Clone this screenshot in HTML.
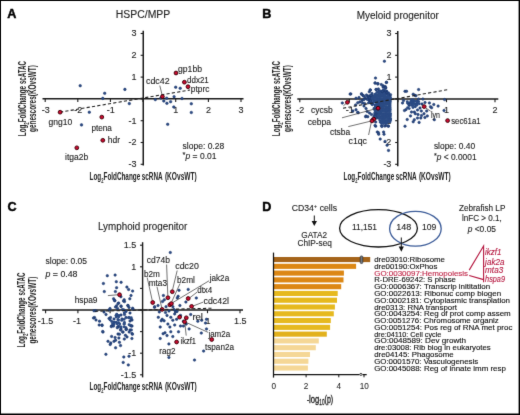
<!DOCTYPE html>
<html><head><meta charset="utf-8"><style>
html,body{margin:0;padding:0;background:#fff;}
svg{display:block;will-change:transform;}
text{font-family:"Liberation Sans", sans-serif;}
</style></head><body>
<svg width="520" height="415" viewBox="0 0 520 415">
<rect x="0" y="0" width="520" height="415" fill="#fff"/>
<defs><filter id="soft" x="0" y="0" width="520" height="415" filterUnits="userSpaceOnUse" color-interpolation-filters="sRGB"><feConvolveMatrix order="3" kernelMatrix="0.01 0.07 0.01 0.07 0.68 0.07 0.01 0.07 0.01" divisor="1" edgeMode="duplicate"/></filter></defs>
<g fill="#222" filter="url(#soft)">
<text x="7.3" y="18.0" font-size="12.6" fill="#000" stroke="#000" stroke-width="0.45" font-weight="bold">A</text>
<text x="115.8" y="18.3" font-size="10" stroke="#222" stroke-width="0.12" textLength="54.4" lengthAdjust="spacingAndGlyphs">HSPC/MPP</text>
<line x1="143.25" y1="30.8" x2="143.25" y2="165.5" stroke="#1a1a1a" stroke-width="1.5"/>
<line x1="140.65" y1="33.5" x2="143.25" y2="33.5" stroke="#1a1a1a" stroke-width="1.1"/>
<text x="136.6" y="36.3" font-size="9" text-anchor="end" stroke="#222" stroke-width="0.12">3</text>
<line x1="140.65" y1="55.3" x2="143.25" y2="55.3" stroke="#1a1a1a" stroke-width="1.1"/>
<text x="136.6" y="58.099999999999994" font-size="9" text-anchor="end" stroke="#222" stroke-width="0.12">2</text>
<line x1="140.65" y1="77.1" x2="143.25" y2="77.1" stroke="#1a1a1a" stroke-width="1.1"/>
<text x="136.6" y="79.89999999999999" font-size="9" text-anchor="end" stroke="#222" stroke-width="0.12">1</text>
<line x1="140.65" y1="98.9" x2="143.25" y2="98.9" stroke="#1a1a1a" stroke-width="1.1"/>
<line x1="140.65" y1="120.7" x2="143.25" y2="120.7" stroke="#1a1a1a" stroke-width="1.1"/>
<text x="136.6" y="123.5" font-size="9" text-anchor="end" stroke="#222" stroke-width="0.12">-1</text>
<line x1="140.65" y1="142.5" x2="143.25" y2="142.5" stroke="#1a1a1a" stroke-width="1.1"/>
<text x="136.6" y="145.3" font-size="9" text-anchor="end" stroke="#222" stroke-width="0.12">-2</text>
<line x1="140.65" y1="164.3" x2="143.25" y2="164.3" stroke="#1a1a1a" stroke-width="1.1"/>
<text x="136.6" y="167.10000000000002" font-size="9" text-anchor="end" stroke="#222" stroke-width="0.12">-3</text>
<line x1="42.5" y1="98.75" x2="243.5" y2="98.75" stroke="#1a1a1a" stroke-width="1.5"/>
<line x1="45.2" y1="98.75" x2="45.2" y2="101.95" stroke="#1a1a1a" stroke-width="1.1"/>
<text x="45.800000000000004" y="113.4" font-size="9" text-anchor="middle" stroke="#222" stroke-width="0.12">-3</text>
<line x1="77.8" y1="98.75" x2="77.8" y2="101.95" stroke="#1a1a1a" stroke-width="1.1"/>
<text x="78.2" y="113.4" font-size="9" text-anchor="middle" stroke="#222" stroke-width="0.12">-2</text>
<line x1="110.4" y1="98.75" x2="110.4" y2="101.95" stroke="#1a1a1a" stroke-width="1.1"/>
<text x="110.80000000000001" y="113.4" font-size="9" text-anchor="middle" stroke="#222" stroke-width="0.12">-1</text>
<line x1="143" y1="98.75" x2="143" y2="101.95" stroke="#1a1a1a" stroke-width="1.1"/>
<line x1="175.7" y1="98.75" x2="175.7" y2="101.95" stroke="#1a1a1a" stroke-width="1.1"/>
<text x="175.7" y="113.4" font-size="9" text-anchor="middle" stroke="#222" stroke-width="0.12">1</text>
<line x1="208.4" y1="98.75" x2="208.4" y2="101.95" stroke="#1a1a1a" stroke-width="1.1"/>
<text x="208.4" y="113.4" font-size="9" text-anchor="middle" stroke="#222" stroke-width="0.12">2</text>
<line x1="241.0" y1="98.75" x2="241.0" y2="101.95" stroke="#1a1a1a" stroke-width="1.1"/>
<text x="241.0" y="113.4" font-size="9" text-anchor="middle" stroke="#222" stroke-width="0.12">3</text>
<circle cx="80.2" cy="85.7" r="1.30" fill="#2b4b84" stroke="#163066" stroke-width="0.5"/>
<circle cx="104.7" cy="93.3" r="1.30" fill="#2b4b84" stroke="#163066" stroke-width="0.5"/>
<circle cx="124.9" cy="89.4" r="1.30" fill="#2b4b84" stroke="#163066" stroke-width="0.5"/>
<circle cx="102.8" cy="98.4" r="1.30" fill="#2b4b84" stroke="#163066" stroke-width="0.5"/>
<circle cx="89.3" cy="112.2" r="1.30" fill="#2b4b84" stroke="#163066" stroke-width="0.5"/>
<circle cx="81.5" cy="124.9" r="1.30" fill="#2b4b84" stroke="#163066" stroke-width="0.5"/>
<circle cx="129.3" cy="103.6" r="1.30" fill="#2b4b84" stroke="#163066" stroke-width="0.5"/>
<circle cx="155.3" cy="99.6" r="1.30" fill="#2b4b84" stroke="#163066" stroke-width="0.5"/>
<circle cx="160.9" cy="98" r="1.30" fill="#2b4b84" stroke="#163066" stroke-width="0.5"/>
<circle cx="163.8" cy="101" r="1.30" fill="#2b4b84" stroke="#163066" stroke-width="0.5"/>
<circle cx="166.7" cy="98.2" r="1.30" fill="#2b4b84" stroke="#163066" stroke-width="0.5"/>
<circle cx="166.9" cy="103.3" r="1.30" fill="#2b4b84" stroke="#163066" stroke-width="0.5"/>
<circle cx="170.6" cy="101.7" r="1.30" fill="#2b4b84" stroke="#163066" stroke-width="0.5"/>
<circle cx="174.1" cy="96.7" r="1.30" fill="#2b4b84" stroke="#163066" stroke-width="0.5"/>
<circle cx="173.8" cy="107" r="1.30" fill="#2b4b84" stroke="#163066" stroke-width="0.5"/>
<circle cx="175.7" cy="87.2" r="1.30" fill="#2b4b84" stroke="#163066" stroke-width="0.5"/>
<circle cx="180.2" cy="88.3" r="1.30" fill="#2b4b84" stroke="#163066" stroke-width="0.5"/>
<circle cx="182" cy="98.5" r="1.30" fill="#2b4b84" stroke="#163066" stroke-width="0.5"/>
<circle cx="191.3" cy="103.8" r="1.30" fill="#2b4b84" stroke="#163066" stroke-width="0.5"/>
<circle cx="191.3" cy="112.5" r="1.30" fill="#2b4b84" stroke="#163066" stroke-width="0.5"/>
<circle cx="167.7" cy="124.3" r="1.30" fill="#2b4b84" stroke="#163066" stroke-width="0.5"/>
<line x1="60" y1="112.2" x2="190" y2="90.0" stroke="#222" stroke-width="1.1" stroke-dasharray="3.2 2.2"/>
<line x1="159.8" y1="85.6" x2="162.2" y2="95.2" stroke="#333" stroke-width="0.7"/>
<circle cx="60.1" cy="112.2" r="1.9" fill="#c90a30" stroke="#3a0006" stroke-width="0.9"/>
<circle cx="101.8" cy="117.1" r="1.9" fill="#c90a30" stroke="#3a0006" stroke-width="0.9"/>
<circle cx="102.8" cy="140.3" r="1.9" fill="#c90a30" stroke="#3a0006" stroke-width="0.9"/>
<circle cx="76.8" cy="147.8" r="1.9" fill="#c90a30" stroke="#3a0006" stroke-width="0.9"/>
<circle cx="176" cy="73" r="1.9" fill="#c90a30" stroke="#3a0006" stroke-width="0.9"/>
<circle cx="184.4" cy="82.2" r="1.9" fill="#c90a30" stroke="#3a0006" stroke-width="0.9"/>
<circle cx="188" cy="86.7" r="1.9" fill="#c90a30" stroke="#3a0006" stroke-width="0.9"/>
<circle cx="162.4" cy="96.6" r="1.9" fill="#c90a30" stroke="#3a0006" stroke-width="0.9"/>
<text x="48.5" y="124.6" font-size="8.6" stroke="#222" stroke-width="0.12" textLength="23.7" lengthAdjust="spacingAndGlyphs">gng10</text>
<text x="91.4" y="130.6" font-size="8.6" stroke="#222" stroke-width="0.12" textLength="20.5" lengthAdjust="spacingAndGlyphs">ptena</text>
<text x="107.7" y="143.2" font-size="8.6" stroke="#222" stroke-width="0.12" textLength="12.3" lengthAdjust="spacingAndGlyphs">hdr</text>
<text x="65.0" y="160.2" font-size="8.6" stroke="#222" stroke-width="0.12" textLength="23.2" lengthAdjust="spacingAndGlyphs">itga2b</text>
<text x="178" y="71.7" font-size="8.6" stroke="#222" stroke-width="0.12" textLength="24" lengthAdjust="spacingAndGlyphs">gp1bb</text>
<text x="187" y="82.5" font-size="8.6" stroke="#222" stroke-width="0.12" textLength="21.8" lengthAdjust="spacingAndGlyphs">ddx21</text>
<text x="190.8" y="92.0" font-size="8.6" stroke="#222" stroke-width="0.12" textLength="18.6" lengthAdjust="spacingAndGlyphs">ptprc</text>
<text x="146" y="84.2" font-size="8.6" stroke="#222" stroke-width="0.12" textLength="23.6" lengthAdjust="spacingAndGlyphs">cdc42</text>
<text x="182.6" y="148.6" font-size="8.6" stroke="#222" stroke-width="0.12" textLength="41.6" lengthAdjust="spacingAndGlyphs">slope: 0.28</text>
<text x="182.6" y="158.9" font-size="8.6" stroke="#222" stroke-width="0.12" textLength="33.9" lengthAdjust="spacingAndGlyphs"><tspan font-size="7.5" dy="-1.6">*</tspan><tspan dy="1.6" font-style="italic">p</tspan> = 0.01</text>
<text transform="translate(25.6,136.2) rotate(-90)" x="0" y="0" font-size="10.4" font-weight="bold" textLength="50.2" lengthAdjust="spacingAndGlyphs">Log<tspan font-size="7" dy="2.9">2</tspan><tspan dy="-2.9">FoldChange</tspan></text>
<text transform="translate(25.6,84.1) rotate(-90)" x="0" y="0" font-size="10.4" font-weight="bold" textLength="23.0" lengthAdjust="spacingAndGlyphs">scATAC</text>
<text transform="translate(36.4,132.0) rotate(-90)" x="0" y="0" font-size="10.4" font-weight="bold" textLength="66.9" lengthAdjust="spacingAndGlyphs">genescores(KOvsWT)</text>
<text x="89.6" y="179.6" font-size="10.8" font-weight="bold" textLength="50.6" lengthAdjust="spacingAndGlyphs">Log<tspan font-size="7" dy="2.9">2</tspan><tspan dy="-2.9">FoldChange</tspan></text>
<text x="141.7" y="179.6" font-size="10.8" font-weight="bold" textLength="21.0" lengthAdjust="spacingAndGlyphs">scRNA</text>
<text x="164.9" y="179.6" font-size="10.8" font-weight="bold" textLength="31.9" lengthAdjust="spacingAndGlyphs">(KOvsWT)</text>
<text x="262.2" y="18.0" font-size="12.6" fill="#000" stroke="#000" stroke-width="0.45" font-weight="bold">B</text>
<text x="356.7" y="18.5" font-size="10" stroke="#222" stroke-width="0.12" textLength="82.1" lengthAdjust="spacingAndGlyphs">Myeloid progenitor</text>
<line x1="397.75" y1="31.0" x2="397.75" y2="166.3" stroke="#1a1a1a" stroke-width="1.5"/>
<line x1="395.15" y1="33.5" x2="397.75" y2="33.5" stroke="#1a1a1a" stroke-width="1.1"/>
<text x="391.4" y="36.3" font-size="9" text-anchor="end" stroke="#222" stroke-width="0.12">3</text>
<line x1="395.15" y1="55.3" x2="397.75" y2="55.3" stroke="#1a1a1a" stroke-width="1.1"/>
<text x="391.4" y="58.099999999999994" font-size="9" text-anchor="end" stroke="#222" stroke-width="0.12">2</text>
<line x1="395.15" y1="77.1" x2="397.75" y2="77.1" stroke="#1a1a1a" stroke-width="1.1"/>
<text x="391.4" y="79.89999999999999" font-size="9" text-anchor="end" stroke="#222" stroke-width="0.12">1</text>
<line x1="395.15" y1="98.9" x2="397.75" y2="98.9" stroke="#1a1a1a" stroke-width="1.1"/>
<line x1="395.15" y1="120.7" x2="397.75" y2="120.7" stroke="#1a1a1a" stroke-width="1.1"/>
<text x="391.4" y="123.5" font-size="9" text-anchor="end" stroke="#222" stroke-width="0.12">-1</text>
<line x1="395.15" y1="142.5" x2="397.75" y2="142.5" stroke="#1a1a1a" stroke-width="1.1"/>
<text x="391.4" y="145.3" font-size="9" text-anchor="end" stroke="#222" stroke-width="0.12">-2</text>
<line x1="395.15" y1="164.3" x2="397.75" y2="164.3" stroke="#1a1a1a" stroke-width="1.1"/>
<text x="391.4" y="167.10000000000002" font-size="9" text-anchor="end" stroke="#222" stroke-width="0.12">-3</text>
<line x1="297.3" y1="99.0" x2="498.3" y2="99.0" stroke="#1a1a1a" stroke-width="1.6"/>
<line x1="299.8" y1="99.0" x2="299.8" y2="102.2" stroke="#1a1a1a" stroke-width="1.1"/>
<text x="300.3" y="113.4" font-size="9" text-anchor="middle" stroke="#222" stroke-width="0.12">-2</text>
<line x1="349.3" y1="99.0" x2="349.3" y2="102.2" stroke="#1a1a1a" stroke-width="1.1"/>
<text x="349.8" y="113.4" font-size="9" text-anchor="middle" stroke="#222" stroke-width="0.12">-1</text>
<line x1="397.9" y1="99.0" x2="397.9" y2="102.2" stroke="#1a1a1a" stroke-width="1.1"/>
<line x1="446.5" y1="99.0" x2="446.5" y2="102.2" stroke="#1a1a1a" stroke-width="1.1"/>
<text x="446.5" y="113.4" font-size="9" text-anchor="middle" stroke="#222" stroke-width="0.12">1</text>
<line x1="495.0" y1="99.0" x2="495.0" y2="102.2" stroke="#1a1a1a" stroke-width="1.1"/>
<text x="495.0" y="113.4" font-size="9" text-anchor="middle" stroke="#222" stroke-width="0.12">2</text>
<circle cx="383.5" cy="89.8" r="1.45" fill="#2b4b84"/>
<circle cx="378.6" cy="91.3" r="1.45" fill="#2b4b84"/>
<circle cx="380.2" cy="90.9" r="1.45" fill="#2b4b84"/>
<circle cx="381.7" cy="91.3" r="1.45" fill="#2b4b84"/>
<circle cx="383.5" cy="91.3" r="1.45" fill="#2b4b84"/>
<circle cx="385.1" cy="91.4" r="1.45" fill="#2b4b84"/>
<circle cx="386.8" cy="91.3" r="1.45" fill="#2b4b84"/>
<circle cx="376.8" cy="92.5" r="1.45" fill="#2b4b84"/>
<circle cx="378.7" cy="93.0" r="1.45" fill="#2b4b84"/>
<circle cx="380.1" cy="93.1" r="1.45" fill="#2b4b84"/>
<circle cx="382.0" cy="92.9" r="1.45" fill="#2b4b84"/>
<circle cx="384.0" cy="92.9" r="1.45" fill="#2b4b84"/>
<circle cx="384.9" cy="93.1" r="1.45" fill="#2b4b84"/>
<circle cx="387.4" cy="93.2" r="1.45" fill="#2b4b84"/>
<circle cx="388.6" cy="93.0" r="1.45" fill="#2b4b84"/>
<circle cx="375.3" cy="94.3" r="1.45" fill="#2b4b84"/>
<circle cx="376.7" cy="94.9" r="1.45" fill="#2b4b84"/>
<circle cx="378.5" cy="94.6" r="1.45" fill="#2b4b84"/>
<circle cx="380.5" cy="94.9" r="1.45" fill="#2b4b84"/>
<circle cx="381.8" cy="94.5" r="1.45" fill="#2b4b84"/>
<circle cx="384.0" cy="94.3" r="1.45" fill="#2b4b84"/>
<circle cx="385.1" cy="94.4" r="1.45" fill="#2b4b84"/>
<circle cx="387.1" cy="94.4" r="1.45" fill="#2b4b84"/>
<circle cx="388.6" cy="94.5" r="1.45" fill="#2b4b84"/>
<circle cx="375.2" cy="95.9" r="1.45" fill="#2b4b84"/>
<circle cx="377.0" cy="96.6" r="1.45" fill="#2b4b84"/>
<circle cx="378.4" cy="96.2" r="1.45" fill="#2b4b84"/>
<circle cx="380.3" cy="95.9" r="1.45" fill="#2b4b84"/>
<circle cx="381.7" cy="96.0" r="1.45" fill="#2b4b84"/>
<circle cx="383.2" cy="95.9" r="1.45" fill="#2b4b84"/>
<circle cx="385.0" cy="96.2" r="1.45" fill="#2b4b84"/>
<circle cx="387.3" cy="96.4" r="1.45" fill="#2b4b84"/>
<circle cx="388.5" cy="96.2" r="1.45" fill="#2b4b84"/>
<circle cx="390.1" cy="96.6" r="1.45" fill="#2b4b84"/>
<circle cx="374.8" cy="97.7" r="1.45" fill="#2b4b84"/>
<circle cx="376.6" cy="98.3" r="1.45" fill="#2b4b84"/>
<circle cx="378.1" cy="98.4" r="1.45" fill="#2b4b84"/>
<circle cx="379.9" cy="98.0" r="1.45" fill="#2b4b84"/>
<circle cx="381.9" cy="98.4" r="1.45" fill="#2b4b84"/>
<circle cx="383.8" cy="97.8" r="1.45" fill="#2b4b84"/>
<circle cx="385.0" cy="98.2" r="1.45" fill="#2b4b84"/>
<circle cx="387.2" cy="97.9" r="1.45" fill="#2b4b84"/>
<circle cx="388.9" cy="98.4" r="1.45" fill="#2b4b84"/>
<circle cx="390.6" cy="98.3" r="1.45" fill="#2b4b84"/>
<circle cx="375.0" cy="99.3" r="1.45" fill="#2b4b84"/>
<circle cx="376.6" cy="99.5" r="1.45" fill="#2b4b84"/>
<circle cx="378.9" cy="99.7" r="1.45" fill="#2b4b84"/>
<circle cx="380.6" cy="100.1" r="1.45" fill="#2b4b84"/>
<circle cx="381.7" cy="99.5" r="1.45" fill="#2b4b84"/>
<circle cx="383.4" cy="99.8" r="1.45" fill="#2b4b84"/>
<circle cx="385.6" cy="99.7" r="1.45" fill="#2b4b84"/>
<circle cx="387.2" cy="99.4" r="1.45" fill="#2b4b84"/>
<circle cx="389.0" cy="99.9" r="1.45" fill="#2b4b84"/>
<circle cx="390.4" cy="99.4" r="1.45" fill="#2b4b84"/>
<circle cx="375.5" cy="101.3" r="1.45" fill="#2b4b84"/>
<circle cx="377.2" cy="101.6" r="1.45" fill="#2b4b84"/>
<circle cx="378.2" cy="101.1" r="1.45" fill="#2b4b84"/>
<circle cx="380.4" cy="101.1" r="1.45" fill="#2b4b84"/>
<circle cx="382.3" cy="101.5" r="1.45" fill="#2b4b84"/>
<circle cx="383.6" cy="101.1" r="1.45" fill="#2b4b84"/>
<circle cx="385.7" cy="101.5" r="1.45" fill="#2b4b84"/>
<circle cx="387.3" cy="101.3" r="1.45" fill="#2b4b84"/>
<circle cx="389.0" cy="101.2" r="1.45" fill="#2b4b84"/>
<circle cx="390.2" cy="101.2" r="1.45" fill="#2b4b84"/>
<circle cx="376.7" cy="103.1" r="1.45" fill="#2b4b84"/>
<circle cx="378.8" cy="103.0" r="1.45" fill="#2b4b84"/>
<circle cx="380.2" cy="103.1" r="1.45" fill="#2b4b84"/>
<circle cx="381.5" cy="103.1" r="1.45" fill="#2b4b84"/>
<circle cx="383.2" cy="103.3" r="1.45" fill="#2b4b84"/>
<circle cx="385.3" cy="103.3" r="1.45" fill="#2b4b84"/>
<circle cx="386.9" cy="103.1" r="1.45" fill="#2b4b84"/>
<circle cx="388.9" cy="102.8" r="1.45" fill="#2b4b84"/>
<circle cx="390.2" cy="102.9" r="1.45" fill="#2b4b84"/>
<circle cx="375.3" cy="105.1" r="1.45" fill="#2b4b84"/>
<circle cx="376.9" cy="104.8" r="1.45" fill="#2b4b84"/>
<circle cx="378.7" cy="104.8" r="1.45" fill="#2b4b84"/>
<circle cx="380.2" cy="105.2" r="1.45" fill="#2b4b84"/>
<circle cx="382.2" cy="105.2" r="1.45" fill="#2b4b84"/>
<circle cx="383.6" cy="105.2" r="1.45" fill="#2b4b84"/>
<circle cx="385.0" cy="104.5" r="1.45" fill="#2b4b84"/>
<circle cx="386.7" cy="104.6" r="1.45" fill="#2b4b84"/>
<circle cx="388.8" cy="105.0" r="1.45" fill="#2b4b84"/>
<circle cx="390.1" cy="105.0" r="1.45" fill="#2b4b84"/>
<circle cx="375.5" cy="106.3" r="1.45" fill="#2b4b84"/>
<circle cx="376.7" cy="106.5" r="1.45" fill="#2b4b84"/>
<circle cx="378.8" cy="106.2" r="1.45" fill="#2b4b84"/>
<circle cx="380.2" cy="106.4" r="1.45" fill="#2b4b84"/>
<circle cx="381.8" cy="106.7" r="1.45" fill="#2b4b84"/>
<circle cx="383.6" cy="106.5" r="1.45" fill="#2b4b84"/>
<circle cx="385.2" cy="106.6" r="1.45" fill="#2b4b84"/>
<circle cx="386.7" cy="106.9" r="1.45" fill="#2b4b84"/>
<circle cx="389.1" cy="106.2" r="1.45" fill="#2b4b84"/>
<circle cx="390.0" cy="106.7" r="1.45" fill="#2b4b84"/>
<circle cx="375.4" cy="108.5" r="1.45" fill="#2b4b84"/>
<circle cx="376.5" cy="108.5" r="1.45" fill="#2b4b84"/>
<circle cx="378.7" cy="107.9" r="1.45" fill="#2b4b84"/>
<circle cx="380.4" cy="108.1" r="1.45" fill="#2b4b84"/>
<circle cx="382.3" cy="108.3" r="1.45" fill="#2b4b84"/>
<circle cx="383.3" cy="108.5" r="1.45" fill="#2b4b84"/>
<circle cx="385.6" cy="108.2" r="1.45" fill="#2b4b84"/>
<circle cx="387.0" cy="108.5" r="1.45" fill="#2b4b84"/>
<circle cx="388.4" cy="108.2" r="1.45" fill="#2b4b84"/>
<circle cx="390.1" cy="107.9" r="1.45" fill="#2b4b84"/>
<circle cx="374.9" cy="110.1" r="1.45" fill="#2b4b84"/>
<circle cx="376.8" cy="109.6" r="1.45" fill="#2b4b84"/>
<circle cx="378.1" cy="109.7" r="1.45" fill="#2b4b84"/>
<circle cx="380.4" cy="109.9" r="1.45" fill="#2b4b84"/>
<circle cx="381.9" cy="110.2" r="1.45" fill="#2b4b84"/>
<circle cx="383.9" cy="109.8" r="1.45" fill="#2b4b84"/>
<circle cx="385.6" cy="109.8" r="1.45" fill="#2b4b84"/>
<circle cx="387.2" cy="110.3" r="1.45" fill="#2b4b84"/>
<circle cx="389.0" cy="110.1" r="1.45" fill="#2b4b84"/>
<circle cx="390.3" cy="109.8" r="1.45" fill="#2b4b84"/>
<circle cx="375.3" cy="111.4" r="1.45" fill="#2b4b84"/>
<circle cx="376.5" cy="111.9" r="1.45" fill="#2b4b84"/>
<circle cx="378.6" cy="111.4" r="1.45" fill="#2b4b84"/>
<circle cx="380.0" cy="111.6" r="1.45" fill="#2b4b84"/>
<circle cx="381.9" cy="111.4" r="1.45" fill="#2b4b84"/>
<circle cx="384.0" cy="111.6" r="1.45" fill="#2b4b84"/>
<circle cx="385.7" cy="111.4" r="1.45" fill="#2b4b84"/>
<circle cx="386.6" cy="111.5" r="1.45" fill="#2b4b84"/>
<circle cx="388.7" cy="111.4" r="1.45" fill="#2b4b84"/>
<circle cx="390.0" cy="111.4" r="1.45" fill="#2b4b84"/>
<circle cx="374.7" cy="113.1" r="1.45" fill="#2b4b84"/>
<circle cx="376.9" cy="113.3" r="1.45" fill="#2b4b84"/>
<circle cx="378.6" cy="113.5" r="1.45" fill="#2b4b84"/>
<circle cx="380.1" cy="113.2" r="1.45" fill="#2b4b84"/>
<circle cx="381.6" cy="113.5" r="1.45" fill="#2b4b84"/>
<circle cx="383.2" cy="113.6" r="1.45" fill="#2b4b84"/>
<circle cx="385.4" cy="113.5" r="1.45" fill="#2b4b84"/>
<circle cx="386.7" cy="113.3" r="1.45" fill="#2b4b84"/>
<circle cx="389.0" cy="113.5" r="1.45" fill="#2b4b84"/>
<circle cx="390.5" cy="113.6" r="1.45" fill="#2b4b84"/>
<circle cx="374.7" cy="114.7" r="1.45" fill="#2b4b84"/>
<circle cx="376.5" cy="115.3" r="1.45" fill="#2b4b84"/>
<circle cx="378.6" cy="115.1" r="1.45" fill="#2b4b84"/>
<circle cx="380.2" cy="114.6" r="1.45" fill="#2b4b84"/>
<circle cx="382.1" cy="115.0" r="1.45" fill="#2b4b84"/>
<circle cx="383.7" cy="114.7" r="1.45" fill="#2b4b84"/>
<circle cx="385.1" cy="114.7" r="1.45" fill="#2b4b84"/>
<circle cx="387.2" cy="114.8" r="1.45" fill="#2b4b84"/>
<circle cx="389.1" cy="115.0" r="1.45" fill="#2b4b84"/>
<circle cx="390.4" cy="115.1" r="1.45" fill="#2b4b84"/>
<circle cx="376.6" cy="116.9" r="1.45" fill="#2b4b84"/>
<circle cx="378.6" cy="116.3" r="1.45" fill="#2b4b84"/>
<circle cx="380.0" cy="116.8" r="1.45" fill="#2b4b84"/>
<circle cx="382.0" cy="116.5" r="1.45" fill="#2b4b84"/>
<circle cx="383.6" cy="116.7" r="1.45" fill="#2b4b84"/>
<circle cx="385.6" cy="116.5" r="1.45" fill="#2b4b84"/>
<circle cx="387.3" cy="116.3" r="1.45" fill="#2b4b84"/>
<circle cx="389.0" cy="117.1" r="1.45" fill="#2b4b84"/>
<circle cx="390.2" cy="116.5" r="1.45" fill="#2b4b84"/>
<circle cx="378.8" cy="118.4" r="1.45" fill="#2b4b84"/>
<circle cx="380.4" cy="118.2" r="1.45" fill="#2b4b84"/>
<circle cx="381.9" cy="118.0" r="1.45" fill="#2b4b84"/>
<circle cx="383.6" cy="118.4" r="1.45" fill="#2b4b84"/>
<circle cx="385.0" cy="118.3" r="1.45" fill="#2b4b84"/>
<circle cx="387.3" cy="118.0" r="1.45" fill="#2b4b84"/>
<circle cx="389.0" cy="118.1" r="1.45" fill="#2b4b84"/>
<circle cx="390.6" cy="118.7" r="1.45" fill="#2b4b84"/>
<circle cx="379.9" cy="120.4" r="1.45" fill="#2b4b84"/>
<circle cx="382.2" cy="119.9" r="1.45" fill="#2b4b84"/>
<circle cx="383.6" cy="119.9" r="1.45" fill="#2b4b84"/>
<circle cx="385.7" cy="120.4" r="1.45" fill="#2b4b84"/>
<circle cx="387.1" cy="120.4" r="1.45" fill="#2b4b84"/>
<circle cx="388.7" cy="120.3" r="1.45" fill="#2b4b84"/>
<circle cx="390.6" cy="120.1" r="1.45" fill="#2b4b84"/>
<circle cx="380.4" cy="122.2" r="1.45" fill="#2b4b84"/>
<circle cx="382.0" cy="121.6" r="1.45" fill="#2b4b84"/>
<circle cx="383.5" cy="121.5" r="1.45" fill="#2b4b84"/>
<circle cx="385.1" cy="122.1" r="1.45" fill="#2b4b84"/>
<circle cx="386.8" cy="122.1" r="1.45" fill="#2b4b84"/>
<circle cx="388.7" cy="121.5" r="1.45" fill="#2b4b84"/>
<circle cx="390.1" cy="121.7" r="1.45" fill="#2b4b84"/>
<circle cx="381.5" cy="123.3" r="1.45" fill="#2b4b84"/>
<circle cx="383.3" cy="123.5" r="1.45" fill="#2b4b84"/>
<circle cx="385.6" cy="123.3" r="1.45" fill="#2b4b84"/>
<circle cx="386.8" cy="123.4" r="1.45" fill="#2b4b84"/>
<circle cx="370.0" cy="95.6" r="1.45" fill="#2b4b84"/>
<circle cx="373.2" cy="95.7" r="1.45" fill="#2b4b84"/>
<circle cx="370.0" cy="97.0" r="1.45" fill="#2b4b84"/>
<circle cx="371.8" cy="96.6" r="1.45" fill="#2b4b84"/>
<circle cx="373.5" cy="97.6" r="1.45" fill="#2b4b84"/>
<circle cx="366.8" cy="99.1" r="1.45" fill="#2b4b84"/>
<circle cx="367.6" cy="98.9" r="1.45" fill="#2b4b84"/>
<circle cx="369.8" cy="98.7" r="1.45" fill="#2b4b84"/>
<circle cx="372.1" cy="98.6" r="1.45" fill="#2b4b84"/>
<circle cx="373.3" cy="98.8" r="1.45" fill="#2b4b84"/>
<circle cx="375.0" cy="99.2" r="1.45" fill="#2b4b84"/>
<circle cx="369.7" cy="101.2" r="1.45" fill="#2b4b84"/>
<circle cx="371.4" cy="100.4" r="1.45" fill="#2b4b84"/>
<circle cx="373.7" cy="101.1" r="1.45" fill="#2b4b84"/>
<circle cx="368.5" cy="102.9" r="1.45" fill="#2b4b84"/>
<circle cx="370.4" cy="102.9" r="1.45" fill="#2b4b84"/>
<circle cx="371.4" cy="102.9" r="1.45" fill="#2b4b84"/>
<circle cx="373.0" cy="102.7" r="1.45" fill="#2b4b84"/>
<circle cx="375.2" cy="102.3" r="1.45" fill="#2b4b84"/>
<circle cx="372.0" cy="104.2" r="1.45" fill="#2b4b84"/>
<circle cx="375.4" cy="105.9" r="1.45" fill="#2b4b84"/>
<circle cx="374.0" cy="108.4" r="1.45" fill="#2b4b84"/>
<circle cx="375.1" cy="107.8" r="1.45" fill="#2b4b84"/>
<circle cx="375.0" cy="110.0" r="1.45" fill="#2b4b84"/>
<circle cx="376.7" cy="109.2" r="1.45" fill="#2b4b84"/>
<circle cx="377.2" cy="111.7" r="1.45" fill="#2b4b84"/>
<circle cx="384.4" cy="61.2" r="1.25" fill="#2b4b84" stroke="#163066" stroke-width="0.5"/>
<circle cx="375.5" cy="78.1" r="1.25" fill="#2b4b84" stroke="#163066" stroke-width="0.5"/>
<circle cx="375.2" cy="82.9" r="1.25" fill="#2b4b84" stroke="#163066" stroke-width="0.5"/>
<circle cx="377.9" cy="83.6" r="1.25" fill="#2b4b84" stroke="#163066" stroke-width="0.5"/>
<circle cx="386.4" cy="82.4" r="1.25" fill="#2b4b84" stroke="#163066" stroke-width="0.5"/>
<circle cx="381.3" cy="84.6" r="1.25" fill="#2b4b84" stroke="#163066" stroke-width="0.5"/>
<circle cx="383.2" cy="85.8" r="1.25" fill="#2b4b84" stroke="#163066" stroke-width="0.5"/>
<circle cx="385.2" cy="86.5" r="1.25" fill="#2b4b84" stroke="#163066" stroke-width="0.5"/>
<circle cx="385.8" cy="87.9" r="1.25" fill="#2b4b84" stroke="#163066" stroke-width="0.5"/>
<circle cx="370.2" cy="89.9" r="1.25" fill="#2b4b84" stroke="#163066" stroke-width="0.5"/>
<circle cx="369.3" cy="91.8" r="1.25" fill="#2b4b84" stroke="#163066" stroke-width="0.5"/>
<circle cx="376" cy="89.4" r="1.25" fill="#2b4b84" stroke="#163066" stroke-width="0.5"/>
<circle cx="378.4" cy="88.9" r="1.25" fill="#2b4b84" stroke="#163066" stroke-width="0.5"/>
<circle cx="350.8" cy="93.9" r="1.25" fill="#2b4b84" stroke="#163066" stroke-width="0.5"/>
<circle cx="361.6" cy="94.2" r="1.25" fill="#2b4b84" stroke="#163066" stroke-width="0.5"/>
<circle cx="363" cy="95.6" r="1.25" fill="#2b4b84" stroke="#163066" stroke-width="0.5"/>
<circle cx="390.5" cy="94.7" r="1.25" fill="#2b4b84" stroke="#163066" stroke-width="0.5"/>
<circle cx="367.8" cy="96.6" r="1.25" fill="#2b4b84" stroke="#163066" stroke-width="0.5"/>
<circle cx="375" cy="83.1" r="1.25" fill="#2b4b84" stroke="#163066" stroke-width="0.5"/>
<circle cx="377.8" cy="84" r="1.25" fill="#2b4b84" stroke="#163066" stroke-width="0.5"/>
<circle cx="386.5" cy="82.3" r="1.25" fill="#2b4b84" stroke="#163066" stroke-width="0.5"/>
<circle cx="383" cy="86.9" r="1.25" fill="#2b4b84" stroke="#163066" stroke-width="0.5"/>
<circle cx="385.4" cy="87.7" r="1.25" fill="#2b4b84" stroke="#163066" stroke-width="0.5"/>
<circle cx="370.4" cy="90" r="1.25" fill="#2b4b84" stroke="#163066" stroke-width="0.5"/>
<circle cx="376.2" cy="89.6" r="1.25" fill="#2b4b84" stroke="#163066" stroke-width="0.5"/>
<circle cx="361.5" cy="93.8" r="1.25" fill="#2b4b84" stroke="#163066" stroke-width="0.5"/>
<circle cx="363.5" cy="95.8" r="1.25" fill="#2b4b84" stroke="#163066" stroke-width="0.5"/>
<circle cx="368.5" cy="96.2" r="1.25" fill="#2b4b84" stroke="#163066" stroke-width="0.5"/>
<circle cx="385.4" cy="90.8" r="1.25" fill="#2b4b84" stroke="#163066" stroke-width="0.5"/>
<circle cx="386.9" cy="92.7" r="1.25" fill="#2b4b84" stroke="#163066" stroke-width="0.5"/>
<circle cx="382.3" cy="91.5" r="1.25" fill="#2b4b84" stroke="#163066" stroke-width="0.5"/>
<circle cx="350.1" cy="94.1" r="1.25" fill="#2b4b84" stroke="#163066" stroke-width="0.5"/>
<circle cx="372" cy="93.5" r="1.25" fill="#2b4b84" stroke="#163066" stroke-width="0.5"/>
<circle cx="365" cy="97.5" r="1.25" fill="#2b4b84" stroke="#163066" stroke-width="0.5"/>
<circle cx="359" cy="97.5" r="1.25" fill="#2b4b84" stroke="#163066" stroke-width="0.5"/>
<circle cx="356" cy="98.2" r="1.25" fill="#2b4b84" stroke="#163066" stroke-width="0.5"/>
<circle cx="342.3" cy="103" r="1.25" fill="#2b4b84" stroke="#163066" stroke-width="0.5"/>
<circle cx="355.6" cy="105" r="1.25" fill="#2b4b84" stroke="#163066" stroke-width="0.5"/>
<circle cx="352.9" cy="110.9" r="1.25" fill="#2b4b84" stroke="#163066" stroke-width="0.5"/>
<circle cx="358.2" cy="112.8" r="1.25" fill="#2b4b84" stroke="#163066" stroke-width="0.5"/>
<circle cx="359.8" cy="101.9" r="1.25" fill="#2b4b84" stroke="#163066" stroke-width="0.5"/>
<circle cx="362.5" cy="102.9" r="1.25" fill="#2b4b84" stroke="#163066" stroke-width="0.5"/>
<circle cx="367.2" cy="111.4" r="1.25" fill="#2b4b84" stroke="#163066" stroke-width="0.5"/>
<circle cx="365.6" cy="116.7" r="1.25" fill="#2b4b84" stroke="#163066" stroke-width="0.5"/>
<circle cx="367.8" cy="116.7" r="1.25" fill="#2b4b84" stroke="#163066" stroke-width="0.5"/>
<circle cx="375.7" cy="122" r="1.25" fill="#2b4b84" stroke="#163066" stroke-width="0.5"/>
<circle cx="375.7" cy="126.2" r="1.25" fill="#2b4b84" stroke="#163066" stroke-width="0.5"/>
<circle cx="381.5" cy="125.7" r="1.25" fill="#2b4b84" stroke="#163066" stroke-width="0.5"/>
<circle cx="385.7" cy="125.7" r="1.25" fill="#2b4b84" stroke="#163066" stroke-width="0.5"/>
<circle cx="388.4" cy="126.2" r="1.25" fill="#2b4b84" stroke="#163066" stroke-width="0.5"/>
<circle cx="377.3" cy="132" r="1.25" fill="#2b4b84" stroke="#163066" stroke-width="0.5"/>
<circle cx="383.6" cy="132" r="1.25" fill="#2b4b84" stroke="#163066" stroke-width="0.5"/>
<circle cx="378.4" cy="132.7" r="1.25" fill="#2b4b84" stroke="#163066" stroke-width="0.5"/>
<circle cx="380.2" cy="139.1" r="1.25" fill="#2b4b84" stroke="#163066" stroke-width="0.5"/>
<circle cx="385" cy="141.4" r="1.25" fill="#2b4b84" stroke="#163066" stroke-width="0.5"/>
<circle cx="387.1" cy="145.2" r="1.25" fill="#2b4b84" stroke="#163066" stroke-width="0.5"/>
<circle cx="388.5" cy="150.4" r="1.25" fill="#2b4b84" stroke="#163066" stroke-width="0.5"/>
<circle cx="381.9" cy="126.5" r="1.25" fill="#2b4b84" stroke="#163066" stroke-width="0.5"/>
<circle cx="357.7" cy="102.8" r="1.25" fill="#2b4b84" stroke="#163066" stroke-width="0.5"/>
<circle cx="356" cy="109.7" r="1.25" fill="#2b4b84" stroke="#163066" stroke-width="0.5"/>
<circle cx="357.7" cy="112.3" r="1.25" fill="#2b4b84" stroke="#163066" stroke-width="0.5"/>
<circle cx="366" cy="116.1" r="1.25" fill="#2b4b84" stroke="#163066" stroke-width="0.5"/>
<circle cx="364" cy="106" r="1.25" fill="#2b4b84" stroke="#163066" stroke-width="0.5"/>
<circle cx="366" cy="108.5" r="1.25" fill="#2b4b84" stroke="#163066" stroke-width="0.5"/>
<circle cx="369.5" cy="113" r="1.25" fill="#2b4b84" stroke="#163066" stroke-width="0.5"/>
<circle cx="362" cy="100.5" r="1.25" fill="#2b4b84" stroke="#163066" stroke-width="0.5"/>
<circle cx="369" cy="100" r="1.25" fill="#2b4b84" stroke="#163066" stroke-width="0.5"/>
<circle cx="364.5" cy="103.5" r="1.25" fill="#2b4b84" stroke="#163066" stroke-width="0.5"/>
<circle cx="371.5" cy="114.5" r="1.25" fill="#2b4b84" stroke="#163066" stroke-width="0.5"/>
<circle cx="374" cy="116.5" r="1.25" fill="#2b4b84" stroke="#163066" stroke-width="0.5"/>
<circle cx="372.5" cy="119" r="1.25" fill="#2b4b84" stroke="#163066" stroke-width="0.5"/>
<circle cx="378.7" cy="134.2" r="1.25" fill="#2b4b84" stroke="#163066" stroke-width="0.5"/>
<circle cx="384" cy="134.2" r="1.25" fill="#2b4b84" stroke="#163066" stroke-width="0.5"/>
<circle cx="375" cy="125.4" r="1.25" fill="#2b4b84" stroke="#163066" stroke-width="0.5"/>
<circle cx="384.7" cy="126" r="1.25" fill="#2b4b84" stroke="#163066" stroke-width="0.5"/>
<circle cx="388.3" cy="126" r="1.25" fill="#2b4b84" stroke="#163066" stroke-width="0.5"/>
<circle cx="366.5" cy="95" r="1.25" fill="#2b4b84" stroke="#163066" stroke-width="0.5"/>
<circle cx="369.5" cy="97.5" r="1.25" fill="#2b4b84" stroke="#163066" stroke-width="0.5"/>
<circle cx="371" cy="95.5" r="1.25" fill="#2b4b84" stroke="#163066" stroke-width="0.5"/>
<circle cx="364" cy="99.5" r="1.25" fill="#2b4b84" stroke="#163066" stroke-width="0.5"/>
<circle cx="367.5" cy="99.2" r="1.25" fill="#2b4b84" stroke="#163066" stroke-width="0.5"/>
<circle cx="370.5" cy="101" r="1.25" fill="#2b4b84" stroke="#163066" stroke-width="0.5"/>
<circle cx="372.5" cy="104.5" r="1.25" fill="#2b4b84" stroke="#163066" stroke-width="0.5"/>
<circle cx="376" cy="114" r="1.25" fill="#2b4b84" stroke="#163066" stroke-width="0.5"/>
<circle cx="376.5" cy="118" r="1.25" fill="#2b4b84" stroke="#163066" stroke-width="0.5"/>
<circle cx="411.4" cy="100.0" r="1.45" fill="#2b4b84"/>
<circle cx="413.1" cy="99.8" r="1.45" fill="#2b4b84"/>
<circle cx="407.3" cy="101.8" r="1.45" fill="#2b4b84"/>
<circle cx="410.8" cy="101.5" r="1.45" fill="#2b4b84"/>
<circle cx="412.8" cy="101.3" r="1.45" fill="#2b4b84"/>
<circle cx="414.7" cy="101.2" r="1.45" fill="#2b4b84"/>
<circle cx="417.1" cy="101.1" r="1.45" fill="#2b4b84"/>
<circle cx="418.6" cy="101.6" r="1.45" fill="#2b4b84"/>
<circle cx="407.7" cy="103.3" r="1.45" fill="#2b4b84"/>
<circle cx="408.9" cy="103.2" r="1.45" fill="#2b4b84"/>
<circle cx="411.3" cy="102.9" r="1.45" fill="#2b4b84"/>
<circle cx="413.3" cy="103.2" r="1.45" fill="#2b4b84"/>
<circle cx="414.8" cy="103.8" r="1.45" fill="#2b4b84"/>
<circle cx="417.0" cy="103.2" r="1.45" fill="#2b4b84"/>
<circle cx="419.2" cy="103.8" r="1.45" fill="#2b4b84"/>
<circle cx="409.2" cy="105.5" r="1.45" fill="#2b4b84"/>
<circle cx="411.6" cy="105.2" r="1.45" fill="#2b4b84"/>
<circle cx="412.6" cy="105.3" r="1.45" fill="#2b4b84"/>
<circle cx="415.4" cy="104.8" r="1.45" fill="#2b4b84"/>
<circle cx="416.8" cy="105.2" r="1.45" fill="#2b4b84"/>
<circle cx="407.7" cy="107.6" r="1.45" fill="#2b4b84"/>
<circle cx="413.0" cy="107.5" r="1.45" fill="#2b4b84"/>
<circle cx="415.3" cy="106.8" r="1.45" fill="#2b4b84"/>
<circle cx="409.2" cy="108.6" r="1.45" fill="#2b4b84"/>
<circle cx="405" cy="91.3" r="1.25" fill="#2b4b84" stroke="#163066" stroke-width="0.5"/>
<circle cx="406.5" cy="91.3" r="1.25" fill="#2b4b84" stroke="#163066" stroke-width="0.5"/>
<circle cx="418.6" cy="89.6" r="1.25" fill="#2b4b84" stroke="#163066" stroke-width="0.5"/>
<circle cx="413.2" cy="94.2" r="1.25" fill="#2b4b84" stroke="#163066" stroke-width="0.5"/>
<circle cx="414.8" cy="95.3" r="1.25" fill="#2b4b84" stroke="#163066" stroke-width="0.5"/>
<circle cx="415.9" cy="95.8" r="1.25" fill="#2b4b84" stroke="#163066" stroke-width="0.5"/>
<circle cx="422.9" cy="99.1" r="1.25" fill="#2b4b84" stroke="#163066" stroke-width="0.5"/>
<circle cx="418.6" cy="99.1" r="1.25" fill="#2b4b84" stroke="#163066" stroke-width="0.5"/>
<circle cx="444.6" cy="99.6" r="1.25" fill="#2b4b84" stroke="#163066" stroke-width="0.5"/>
<circle cx="429.4" cy="102.9" r="1.25" fill="#2b4b84" stroke="#163066" stroke-width="0.5"/>
<circle cx="433.8" cy="104.5" r="1.25" fill="#2b4b84" stroke="#163066" stroke-width="0.5"/>
<circle cx="430.5" cy="106.7" r="1.25" fill="#2b4b84" stroke="#163066" stroke-width="0.5"/>
<circle cx="431.6" cy="107.8" r="1.25" fill="#2b4b84" stroke="#163066" stroke-width="0.5"/>
<circle cx="438.1" cy="106.1" r="1.25" fill="#2b4b84" stroke="#163066" stroke-width="0.5"/>
<circle cx="426.7" cy="111" r="1.25" fill="#2b4b84" stroke="#163066" stroke-width="0.5"/>
<circle cx="424" cy="113.7" r="1.25" fill="#2b4b84" stroke="#163066" stroke-width="0.5"/>
<circle cx="421.3" cy="111" r="1.25" fill="#2b4b84" stroke="#163066" stroke-width="0.5"/>
<circle cx="414.3" cy="112.1" r="1.25" fill="#2b4b84" stroke="#163066" stroke-width="0.5"/>
<circle cx="415.3" cy="113.7" r="1.25" fill="#2b4b84" stroke="#163066" stroke-width="0.5"/>
<circle cx="404.5" cy="110.5" r="1.25" fill="#2b4b84" stroke="#163066" stroke-width="0.5"/>
<circle cx="406.1" cy="109.4" r="1.25" fill="#2b4b84" stroke="#163066" stroke-width="0.5"/>
<circle cx="410.5" cy="115.9" r="1.25" fill="#2b4b84" stroke="#163066" stroke-width="0.5"/>
<circle cx="407.2" cy="119.5" r="1.25" fill="#2b4b84" stroke="#163066" stroke-width="0.5"/>
<circle cx="427.3" cy="115.9" r="1.25" fill="#2b4b84" stroke="#163066" stroke-width="0.5"/>
<circle cx="424.9" cy="117.5" r="1.25" fill="#2b4b84" stroke="#163066" stroke-width="0.5"/>
<circle cx="420.8" cy="118" r="1.25" fill="#2b4b84" stroke="#163066" stroke-width="0.5"/>
<circle cx="417.5" cy="118" r="1.25" fill="#2b4b84" stroke="#163066" stroke-width="0.5"/>
<circle cx="414.3" cy="119.7" r="1.25" fill="#2b4b84" stroke="#163066" stroke-width="0.5"/>
<circle cx="413.2" cy="121.8" r="1.25" fill="#2b4b84" stroke="#163066" stroke-width="0.5"/>
<circle cx="419.1" cy="122.4" r="1.25" fill="#2b4b84" stroke="#163066" stroke-width="0.5"/>
<circle cx="434.3" cy="119.7" r="1.25" fill="#2b4b84" stroke="#163066" stroke-width="0.5"/>
<circle cx="405" cy="126.2" r="1.25" fill="#2b4b84" stroke="#163066" stroke-width="0.5"/>
<circle cx="444" cy="110.5" r="1.25" fill="#2b4b84" stroke="#163066" stroke-width="0.5"/>
<circle cx="402.5" cy="103" r="1.25" fill="#2b4b84" stroke="#163066" stroke-width="0.5"/>
<circle cx="403.5" cy="100.5" r="1.25" fill="#2b4b84" stroke="#163066" stroke-width="0.5"/>
<circle cx="422" cy="104" r="1.25" fill="#2b4b84" stroke="#163066" stroke-width="0.5"/>
<circle cx="425" cy="102.5" r="1.25" fill="#2b4b84" stroke="#163066" stroke-width="0.5"/>
<circle cx="420" cy="108" r="1.25" fill="#2b4b84" stroke="#163066" stroke-width="0.5"/>
<circle cx="417.5" cy="110" r="1.25" fill="#2b4b84" stroke="#163066" stroke-width="0.5"/>
<circle cx="411.5" cy="112" r="1.25" fill="#2b4b84" stroke="#163066" stroke-width="0.5"/>
<circle cx="418" cy="114.5" r="1.25" fill="#2b4b84" stroke="#163066" stroke-width="0.5"/>
<circle cx="421.5" cy="115.5" r="1.25" fill="#2b4b84" stroke="#163066" stroke-width="0.5"/>
<circle cx="409" cy="104.5" r="1.25" fill="#2b4b84" stroke="#163066" stroke-width="0.5"/>
<line x1="343" y1="108.2" x2="448" y2="89.6" stroke="#222" stroke-width="1.1" stroke-dasharray="3.2 2.2"/>
<line x1="343.4" y1="105.8" x2="346.5" y2="103.2" stroke="#333" stroke-width="0.7"/>
<line x1="342" y1="117.8" x2="376.3" y2="108.6" stroke="#333" stroke-width="0.7"/>
<line x1="348.3" y1="126.6" x2="370.5" y2="121.2" stroke="#333" stroke-width="0.7"/>
<line x1="368.6" y1="135.0" x2="371.2" y2="122.8" stroke="#333" stroke-width="0.7"/>
<line x1="425.8" y1="108.0" x2="430.6" y2="111.2" stroke="#333" stroke-width="0.7"/>
<circle cx="347.4" cy="102.3" r="1.9" fill="#c90a30" stroke="#3a0006" stroke-width="0.9"/>
<circle cx="378.1" cy="108.2" r="1.9" fill="#c90a30" stroke="#3a0006" stroke-width="0.9"/>
<circle cx="373.8" cy="119.2" r="1.9" fill="#c90a30" stroke="#3a0006" stroke-width="0.9"/>
<circle cx="372.0" cy="120.9" r="1.9" fill="#c90a30" stroke="#3a0006" stroke-width="0.9"/>
<circle cx="424.2" cy="106.6" r="1.9" fill="#c90a30" stroke="#3a0006" stroke-width="0.9"/>
<circle cx="447.6" cy="120.6" r="1.9" fill="#c90a30" stroke="#3a0006" stroke-width="0.9"/>
<text x="311.1" y="113.1" font-size="8.6" stroke="#222" stroke-width="0.12" textLength="21.7" lengthAdjust="spacingAndGlyphs">cycsb</text>
<text x="307.8" y="125.0" font-size="8.6" stroke="#222" stroke-width="0.12" textLength="23.2" lengthAdjust="spacingAndGlyphs">cebpa</text>
<text x="330.0" y="134.9" font-size="8.6" stroke="#222" stroke-width="0.12" textLength="20.2" lengthAdjust="spacingAndGlyphs">ctsba</text>
<text x="348.5" y="144.1" font-size="8.6" stroke="#222" stroke-width="0.12" textLength="18.5" lengthAdjust="spacingAndGlyphs">c1qc</text>
<text x="431.0" y="118.3" font-size="8.6" stroke="#222" stroke-width="0.12" textLength="9.0" lengthAdjust="spacingAndGlyphs">lyn</text>
<text x="451.2" y="123.6" font-size="8.6" stroke="#222" stroke-width="0.12" textLength="29.4" lengthAdjust="spacingAndGlyphs">sec61a1</text>
<text x="433.9" y="149.1" font-size="8.6" stroke="#222" stroke-width="0.12" textLength="41.2" lengthAdjust="spacingAndGlyphs">slope: 0.40</text>
<text x="433.9" y="159.6" font-size="8.6" stroke="#222" stroke-width="0.12" textLength="42.7" lengthAdjust="spacingAndGlyphs"><tspan font-size="7.5" dy="-1.6">*</tspan><tspan dy="1.6" font-style="italic">p</tspan> &lt; 0.0001</text>
<text transform="translate(279.6,136.2) rotate(-90)" x="0" y="0" font-size="10.4" font-weight="bold" textLength="50.2" lengthAdjust="spacingAndGlyphs">Log<tspan font-size="7" dy="2.9">2</tspan><tspan dy="-2.9">FoldChange</tspan></text>
<text transform="translate(279.6,84.1) rotate(-90)" x="0" y="0" font-size="10.4" font-weight="bold" textLength="23.0" lengthAdjust="spacingAndGlyphs">scATAC</text>
<text transform="translate(291.2,132.0) rotate(-90)" x="0" y="0" font-size="10.4" font-weight="bold" textLength="66.9" lengthAdjust="spacingAndGlyphs">genescores(KOvsWT)</text>
<text x="343.6" y="179.6" font-size="10.8" font-weight="bold" textLength="50.6" lengthAdjust="spacingAndGlyphs">Log<tspan font-size="7" dy="2.9">2</tspan><tspan dy="-2.9">FoldChange</tspan></text>
<text x="395.7" y="179.6" font-size="10.8" font-weight="bold" textLength="21.0" lengthAdjust="spacingAndGlyphs">scRNA</text>
<text x="418.9" y="179.6" font-size="10.8" font-weight="bold" textLength="31.9" lengthAdjust="spacingAndGlyphs">(KOvsWT)</text>
<text x="7.4" y="211.3" font-size="12.6" fill="#000" stroke="#000" stroke-width="0.45" font-weight="bold">C</text>
<text x="98.0" y="230.2" font-size="10" stroke="#222" stroke-width="0.12" textLength="89.3" lengthAdjust="spacingAndGlyphs">Lymphoid progenitor</text>
<line x1="142.6" y1="242.2" x2="142.6" y2="377.4" stroke="#1a1a1a" stroke-width="1.4"/>
<line x1="140.0" y1="245.2" x2="142.6" y2="245.2" stroke="#1a1a1a" stroke-width="1.1"/>
<text x="136.2" y="248.0" font-size="9" text-anchor="end" stroke="#222" stroke-width="0.12">1.5</text>
<line x1="140.0" y1="266.8" x2="142.6" y2="266.8" stroke="#1a1a1a" stroke-width="1.1"/>
<text x="136.2" y="269.6" font-size="9" text-anchor="end" stroke="#222" stroke-width="0.12">1</text>
<line x1="140.0" y1="288.4" x2="142.6" y2="288.4" stroke="#1a1a1a" stroke-width="1.1"/>
<line x1="140.0" y1="310.0" x2="142.6" y2="310.0" stroke="#1a1a1a" stroke-width="1.1"/>
<line x1="140.0" y1="331.6" x2="142.6" y2="331.6" stroke="#1a1a1a" stroke-width="1.1"/>
<line x1="140.0" y1="353.2" x2="142.6" y2="353.2" stroke="#1a1a1a" stroke-width="1.1"/>
<text x="136.2" y="356.0" font-size="9" text-anchor="end" stroke="#222" stroke-width="0.12">-1</text>
<line x1="140.0" y1="374.8" x2="142.6" y2="374.8" stroke="#1a1a1a" stroke-width="1.1"/>
<text x="136.2" y="377.6" font-size="9" text-anchor="end" stroke="#222" stroke-width="0.12">-1.5</text>
<line x1="42.2" y1="310.0" x2="243.0" y2="310.0" stroke="#1a1a1a" stroke-width="1.6"/>
<line x1="45.6" y1="310.0" x2="45.6" y2="313.2" stroke="#1a1a1a" stroke-width="1.1"/>
<text x="45.4" y="324.0" font-size="9" text-anchor="middle" stroke="#222" stroke-width="0.12">-1.5</text>
<line x1="77.9" y1="310.0" x2="77.9" y2="313.2" stroke="#1a1a1a" stroke-width="1.1"/>
<text x="77.05000000000001" y="324.0" font-size="9" text-anchor="middle" stroke="#222" stroke-width="0.12">-1</text>
<line x1="110.1" y1="310.0" x2="110.1" y2="313.2" stroke="#1a1a1a" stroke-width="1.1"/>
<line x1="142.4" y1="310.0" x2="142.4" y2="313.2" stroke="#1a1a1a" stroke-width="1.1"/>
<line x1="175.0" y1="310.0" x2="175.0" y2="313.2" stroke="#1a1a1a" stroke-width="1.1"/>
<line x1="207.5" y1="310.0" x2="207.5" y2="313.2" stroke="#1a1a1a" stroke-width="1.1"/>
<text x="207.9" y="324.0" font-size="9" text-anchor="middle" stroke="#222" stroke-width="0.12">1</text>
<line x1="240.0" y1="310.0" x2="240.0" y2="313.2" stroke="#1a1a1a" stroke-width="1.1"/>
<text x="240.3" y="324.0" font-size="9" text-anchor="middle" stroke="#222" stroke-width="0.12">1.5</text>
<circle cx="107.3" cy="275.7" r="1.25" fill="#2b4b84" stroke="#163066" stroke-width="0.5"/>
<circle cx="115.1" cy="275.1" r="1.25" fill="#2b4b84" stroke="#163066" stroke-width="0.5"/>
<circle cx="103.4" cy="283.5" r="1.25" fill="#2b4b84" stroke="#163066" stroke-width="0.5"/>
<circle cx="116.3" cy="281.7" r="1.25" fill="#2b4b84" stroke="#163066" stroke-width="0.5"/>
<circle cx="121.1" cy="282.3" r="1.25" fill="#2b4b84" stroke="#163066" stroke-width="0.5"/>
<circle cx="116.6" cy="287.7" r="1.25" fill="#2b4b84" stroke="#163066" stroke-width="0.5"/>
<circle cx="126.9" cy="287.1" r="1.25" fill="#2b4b84" stroke="#163066" stroke-width="0.5"/>
<circle cx="104.3" cy="291.6" r="1.25" fill="#2b4b84" stroke="#163066" stroke-width="0.5"/>
<circle cx="115.4" cy="291.6" r="1.25" fill="#2b4b84" stroke="#163066" stroke-width="0.5"/>
<circle cx="128.6" cy="289.5" r="1.25" fill="#2b4b84" stroke="#163066" stroke-width="0.5"/>
<circle cx="132.6" cy="291.1" r="1.25" fill="#2b4b84" stroke="#163066" stroke-width="0.5"/>
<circle cx="131" cy="295.5" r="1.25" fill="#2b4b84" stroke="#163066" stroke-width="0.5"/>
<circle cx="120.9" cy="296.7" r="1.25" fill="#2b4b84" stroke="#163066" stroke-width="0.5"/>
<circle cx="113.6" cy="298.8" r="1.25" fill="#2b4b84" stroke="#163066" stroke-width="0.5"/>
<circle cx="129.8" cy="298.8" r="1.25" fill="#2b4b84" stroke="#163066" stroke-width="0.5"/>
<circle cx="124.2" cy="299.8" r="1.25" fill="#2b4b84" stroke="#163066" stroke-width="0.5"/>
<circle cx="114.9" cy="300.7" r="1.25" fill="#2b4b84" stroke="#163066" stroke-width="0.5"/>
<circle cx="124.5" cy="301.6" r="1.25" fill="#2b4b84" stroke="#163066" stroke-width="0.5"/>
<circle cx="118.7" cy="303.1" r="1.25" fill="#2b4b84" stroke="#163066" stroke-width="0.5"/>
<circle cx="127.8" cy="305.5" r="1.25" fill="#2b4b84" stroke="#163066" stroke-width="0.5"/>
<circle cx="116.6" cy="305.8" r="1.25" fill="#2b4b84" stroke="#163066" stroke-width="0.5"/>
<circle cx="121.1" cy="306.4" r="1.25" fill="#2b4b84" stroke="#163066" stroke-width="0.5"/>
<circle cx="132.6" cy="308.2" r="1.25" fill="#2b4b84" stroke="#163066" stroke-width="0.5"/>
<circle cx="114.5" cy="300.5" r="1.25" fill="#2b4b84" stroke="#163066" stroke-width="0.5"/>
<circle cx="123.5" cy="301" r="1.25" fill="#2b4b84" stroke="#163066" stroke-width="0.5"/>
<circle cx="118" cy="303.5" r="1.25" fill="#2b4b84" stroke="#163066" stroke-width="0.5"/>
<circle cx="121" cy="306" r="1.25" fill="#2b4b84" stroke="#163066" stroke-width="0.5"/>
<circle cx="128" cy="305.5" r="1.25" fill="#2b4b84" stroke="#163066" stroke-width="0.5"/>
<circle cx="129" cy="307.5" r="1.25" fill="#2b4b84" stroke="#163066" stroke-width="0.5"/>
<circle cx="133" cy="309" r="1.25" fill="#2b4b84" stroke="#163066" stroke-width="0.5"/>
<circle cx="115.5" cy="307" r="1.25" fill="#2b4b84" stroke="#163066" stroke-width="0.5"/>
<circle cx="117.5" cy="308.5" r="1.25" fill="#2b4b84" stroke="#163066" stroke-width="0.5"/>
<circle cx="94" cy="310.8" r="1.25" fill="#2b4b84" stroke="#163066" stroke-width="0.5"/>
<circle cx="109" cy="310" r="1.25" fill="#2b4b84" stroke="#163066" stroke-width="0.5"/>
<circle cx="122.5" cy="309.5" r="1.25" fill="#2b4b84" stroke="#163066" stroke-width="0.5"/>
<circle cx="124" cy="310" r="1.25" fill="#2b4b84" stroke="#163066" stroke-width="0.5"/>
<circle cx="126" cy="311.5" r="1.25" fill="#2b4b84" stroke="#163066" stroke-width="0.5"/>
<circle cx="130" cy="313" r="1.25" fill="#2b4b84" stroke="#163066" stroke-width="0.5"/>
<circle cx="106" cy="314.5" r="1.25" fill="#2b4b84" stroke="#163066" stroke-width="0.5"/>
<circle cx="116" cy="315.5" r="1.25" fill="#2b4b84" stroke="#163066" stroke-width="0.5"/>
<circle cx="118" cy="316" r="1.25" fill="#2b4b84" stroke="#163066" stroke-width="0.5"/>
<circle cx="121" cy="315" r="1.25" fill="#2b4b84" stroke="#163066" stroke-width="0.5"/>
<circle cx="124.5" cy="314.5" r="1.25" fill="#2b4b84" stroke="#163066" stroke-width="0.5"/>
<circle cx="94.5" cy="317.5" r="1.25" fill="#2b4b84" stroke="#163066" stroke-width="0.5"/>
<circle cx="96" cy="320" r="1.25" fill="#2b4b84" stroke="#163066" stroke-width="0.5"/>
<circle cx="99.5" cy="321.2" r="1.25" fill="#2b4b84" stroke="#163066" stroke-width="0.5"/>
<circle cx="109" cy="318.5" r="1.25" fill="#2b4b84" stroke="#163066" stroke-width="0.5"/>
<circle cx="110.5" cy="317.5" r="1.25" fill="#2b4b84" stroke="#163066" stroke-width="0.5"/>
<circle cx="114" cy="319" r="1.25" fill="#2b4b84" stroke="#163066" stroke-width="0.5"/>
<circle cx="118" cy="319.5" r="1.25" fill="#2b4b84" stroke="#163066" stroke-width="0.5"/>
<circle cx="122" cy="319" r="1.25" fill="#2b4b84" stroke="#163066" stroke-width="0.5"/>
<circle cx="126" cy="317.5" r="1.25" fill="#2b4b84" stroke="#163066" stroke-width="0.5"/>
<circle cx="129" cy="317.5" r="1.25" fill="#2b4b84" stroke="#163066" stroke-width="0.5"/>
<circle cx="131" cy="318.5" r="1.25" fill="#2b4b84" stroke="#163066" stroke-width="0.5"/>
<circle cx="132" cy="320" r="1.25" fill="#2b4b84" stroke="#163066" stroke-width="0.5"/>
<circle cx="130" cy="321" r="1.25" fill="#2b4b84" stroke="#163066" stroke-width="0.5"/>
<circle cx="102" cy="325" r="1.25" fill="#2b4b84" stroke="#163066" stroke-width="0.5"/>
<circle cx="111.5" cy="326" r="1.25" fill="#2b4b84" stroke="#163066" stroke-width="0.5"/>
<circle cx="118" cy="326.5" r="1.25" fill="#2b4b84" stroke="#163066" stroke-width="0.5"/>
<circle cx="124" cy="324" r="1.25" fill="#2b4b84" stroke="#163066" stroke-width="0.5"/>
<circle cx="130.5" cy="325.5" r="1.25" fill="#2b4b84" stroke="#163066" stroke-width="0.5"/>
<circle cx="132" cy="326" r="1.25" fill="#2b4b84" stroke="#163066" stroke-width="0.5"/>
<circle cx="121" cy="329" r="1.25" fill="#2b4b84" stroke="#163066" stroke-width="0.5"/>
<circle cx="126" cy="329.5" r="1.25" fill="#2b4b84" stroke="#163066" stroke-width="0.5"/>
<circle cx="130" cy="330" r="1.25" fill="#2b4b84" stroke="#163066" stroke-width="0.5"/>
<circle cx="103" cy="332" r="1.25" fill="#2b4b84" stroke="#163066" stroke-width="0.5"/>
<circle cx="123" cy="332" r="1.25" fill="#2b4b84" stroke="#163066" stroke-width="0.5"/>
<circle cx="132" cy="333.5" r="1.25" fill="#2b4b84" stroke="#163066" stroke-width="0.5"/>
<circle cx="118" cy="334" r="1.25" fill="#2b4b84" stroke="#163066" stroke-width="0.5"/>
<circle cx="102.1" cy="325.5" r="1.25" fill="#2b4b84" stroke="#163066" stroke-width="0.5"/>
<circle cx="111.3" cy="326.6" r="1.25" fill="#2b4b84" stroke="#163066" stroke-width="0.5"/>
<circle cx="113.5" cy="326.1" r="1.25" fill="#2b4b84" stroke="#163066" stroke-width="0.5"/>
<circle cx="117.3" cy="327.7" r="1.25" fill="#2b4b84" stroke="#163066" stroke-width="0.5"/>
<circle cx="119.4" cy="326.6" r="1.25" fill="#2b4b84" stroke="#163066" stroke-width="0.5"/>
<circle cx="125.9" cy="327.7" r="1.25" fill="#2b4b84" stroke="#163066" stroke-width="0.5"/>
<circle cx="131.3" cy="325.9" r="1.25" fill="#2b4b84" stroke="#163066" stroke-width="0.5"/>
<circle cx="120.5" cy="329.9" r="1.25" fill="#2b4b84" stroke="#163066" stroke-width="0.5"/>
<circle cx="122.7" cy="332" r="1.25" fill="#2b4b84" stroke="#163066" stroke-width="0.5"/>
<circle cx="126.5" cy="329.3" r="1.25" fill="#2b4b84" stroke="#163066" stroke-width="0.5"/>
<circle cx="129.2" cy="332" r="1.25" fill="#2b4b84" stroke="#163066" stroke-width="0.5"/>
<circle cx="131.3" cy="329.9" r="1.25" fill="#2b4b84" stroke="#163066" stroke-width="0.5"/>
<circle cx="119.4" cy="334.2" r="1.25" fill="#2b4b84" stroke="#163066" stroke-width="0.5"/>
<circle cx="125.4" cy="335.3" r="1.25" fill="#2b4b84" stroke="#163066" stroke-width="0.5"/>
<circle cx="127" cy="336.9" r="1.25" fill="#2b4b84" stroke="#163066" stroke-width="0.5"/>
<circle cx="132.4" cy="334.2" r="1.25" fill="#2b4b84" stroke="#163066" stroke-width="0.5"/>
<circle cx="131.9" cy="338.5" r="1.25" fill="#2b4b84" stroke="#163066" stroke-width="0.5"/>
<circle cx="124.3" cy="339.1" r="1.25" fill="#2b4b84" stroke="#163066" stroke-width="0.5"/>
<circle cx="111.6" cy="336.4" r="1.25" fill="#2b4b84" stroke="#163066" stroke-width="0.5"/>
<circle cx="115.1" cy="337.5" r="1.25" fill="#2b4b84" stroke="#163066" stroke-width="0.5"/>
<circle cx="118.9" cy="338" r="1.25" fill="#2b4b84" stroke="#163066" stroke-width="0.5"/>
<circle cx="108" cy="341.3" r="1.25" fill="#2b4b84" stroke="#163066" stroke-width="0.5"/>
<circle cx="110.8" cy="342.9" r="1.25" fill="#2b4b84" stroke="#163066" stroke-width="0.5"/>
<circle cx="114" cy="341.3" r="1.25" fill="#2b4b84" stroke="#163066" stroke-width="0.5"/>
<circle cx="115.6" cy="340.2" r="1.25" fill="#2b4b84" stroke="#163066" stroke-width="0.5"/>
<circle cx="110.2" cy="344.5" r="1.25" fill="#2b4b84" stroke="#163066" stroke-width="0.5"/>
<circle cx="119.4" cy="342.3" r="1.25" fill="#2b4b84" stroke="#163066" stroke-width="0.5"/>
<circle cx="120.5" cy="345.6" r="1.25" fill="#2b4b84" stroke="#163066" stroke-width="0.5"/>
<circle cx="115.6" cy="347.8" r="1.25" fill="#2b4b84" stroke="#163066" stroke-width="0.5"/>
<circle cx="105.9" cy="354.3" r="1.25" fill="#2b4b84" stroke="#163066" stroke-width="0.5"/>
<circle cx="123.8" cy="357" r="1.25" fill="#2b4b84" stroke="#163066" stroke-width="0.5"/>
<circle cx="129" cy="356.2" r="1.25" fill="#2b4b84" stroke="#163066" stroke-width="0.5"/>
<circle cx="123.2" cy="362.4" r="1.25" fill="#2b4b84" stroke="#163066" stroke-width="0.5"/>
<circle cx="128.3" cy="364.9" r="1.25" fill="#2b4b84" stroke="#163066" stroke-width="0.5"/>
<circle cx="95.8" cy="310.7" r="1.25" fill="#2b4b84" stroke="#163066" stroke-width="0.5"/>
<circle cx="93.5" cy="318" r="1.25" fill="#2b4b84" stroke="#163066" stroke-width="0.5"/>
<circle cx="99.2" cy="325" r="1.25" fill="#2b4b84" stroke="#163066" stroke-width="0.5"/>
<circle cx="102.7" cy="331.5" r="1.25" fill="#2b4b84" stroke="#163066" stroke-width="0.5"/>
<circle cx="110" cy="308.5" r="1.25" fill="#2b4b84" stroke="#163066" stroke-width="0.5"/>
<circle cx="104" cy="312" r="1.25" fill="#2b4b84" stroke="#163066" stroke-width="0.5"/>
<circle cx="124.3" cy="312.9" r="1.45" fill="#2b4b84"/>
<circle cx="116.7" cy="314.3" r="1.45" fill="#2b4b84"/>
<circle cx="118.9" cy="315.5" r="1.45" fill="#2b4b84"/>
<circle cx="116.3" cy="317.0" r="1.45" fill="#2b4b84"/>
<circle cx="118.8" cy="316.7" r="1.45" fill="#2b4b84"/>
<circle cx="128.5" cy="317.8" r="1.45" fill="#2b4b84"/>
<circle cx="131.2" cy="317.8" r="1.45" fill="#2b4b84"/>
<circle cx="110.2" cy="319.9" r="1.45" fill="#2b4b84"/>
<circle cx="118.5" cy="320.1" r="1.45" fill="#2b4b84"/>
<circle cx="121.7" cy="320.4" r="1.45" fill="#2b4b84"/>
<circle cx="124.1" cy="319.4" r="1.45" fill="#2b4b84"/>
<circle cx="111.7" cy="321.5" r="1.45" fill="#2b4b84"/>
<circle cx="113.9" cy="322.2" r="1.45" fill="#2b4b84"/>
<circle cx="116.3" cy="322.3" r="1.45" fill="#2b4b84"/>
<circle cx="118.6" cy="322.7" r="1.45" fill="#2b4b84"/>
<circle cx="124.4" cy="322.5" r="1.45" fill="#2b4b84"/>
<circle cx="112.5" cy="323.9" r="1.45" fill="#2b4b84"/>
<circle cx="114.2" cy="324.1" r="1.45" fill="#2b4b84"/>
<circle cx="117.1" cy="323.8" r="1.45" fill="#2b4b84"/>
<circle cx="119.7" cy="324.0" r="1.45" fill="#2b4b84"/>
<circle cx="124.3" cy="324.0" r="1.45" fill="#2b4b84"/>
<circle cx="129.1" cy="324.8" r="1.45" fill="#2b4b84"/>
<circle cx="121.2" cy="327.0" r="1.45" fill="#2b4b84"/>
<circle cx="124.3" cy="326.9" r="1.45" fill="#2b4b84"/>
<circle cx="154.5" cy="307.3" r="1.25" fill="#2b4b84" stroke="#163066" stroke-width="0.5"/>
<circle cx="159.3" cy="311.9" r="1.25" fill="#2b4b84" stroke="#163066" stroke-width="0.5"/>
<circle cx="158.3" cy="317.3" r="1.25" fill="#2b4b84" stroke="#163066" stroke-width="0.5"/>
<circle cx="162.2" cy="319.3" r="1.25" fill="#2b4b84" stroke="#163066" stroke-width="0.5"/>
<circle cx="161.2" cy="320.8" r="1.25" fill="#2b4b84" stroke="#163066" stroke-width="0.5"/>
<circle cx="164.1" cy="320.8" r="1.25" fill="#2b4b84" stroke="#163066" stroke-width="0.5"/>
<circle cx="167" cy="315.4" r="1.25" fill="#2b4b84" stroke="#163066" stroke-width="0.5"/>
<circle cx="170.8" cy="317.3" r="1.25" fill="#2b4b84" stroke="#163066" stroke-width="0.5"/>
<circle cx="174.7" cy="313.9" r="1.25" fill="#2b4b84" stroke="#163066" stroke-width="0.5"/>
<circle cx="175.6" cy="311.6" r="1.25" fill="#2b4b84" stroke="#163066" stroke-width="0.5"/>
<circle cx="180.5" cy="315.4" r="1.25" fill="#2b4b84" stroke="#163066" stroke-width="0.5"/>
<circle cx="172.8" cy="320.2" r="1.25" fill="#2b4b84" stroke="#163066" stroke-width="0.5"/>
<circle cx="176.6" cy="319.3" r="1.25" fill="#2b4b84" stroke="#163066" stroke-width="0.5"/>
<circle cx="167.9" cy="324.1" r="1.25" fill="#2b4b84" stroke="#163066" stroke-width="0.5"/>
<circle cx="160.2" cy="327" r="1.25" fill="#2b4b84" stroke="#163066" stroke-width="0.5"/>
<circle cx="169.9" cy="327" r="1.25" fill="#2b4b84" stroke="#163066" stroke-width="0.5"/>
<circle cx="174.7" cy="325" r="1.25" fill="#2b4b84" stroke="#163066" stroke-width="0.5"/>
<circle cx="180.5" cy="326" r="1.25" fill="#2b4b84" stroke="#163066" stroke-width="0.5"/>
<circle cx="183.4" cy="321.2" r="1.25" fill="#2b4b84" stroke="#163066" stroke-width="0.5"/>
<circle cx="186.2" cy="324.1" r="1.25" fill="#2b4b84" stroke="#163066" stroke-width="0.5"/>
<circle cx="189.1" cy="328.9" r="1.25" fill="#2b4b84" stroke="#163066" stroke-width="0.5"/>
<circle cx="190.7" cy="314.5" r="1.25" fill="#2b4b84" stroke="#163066" stroke-width="0.5"/>
<circle cx="197.8" cy="321.2" r="1.25" fill="#2b4b84" stroke="#163066" stroke-width="0.5"/>
<circle cx="201.7" cy="320.2" r="1.25" fill="#2b4b84" stroke="#163066" stroke-width="0.5"/>
<circle cx="206.5" cy="319.3" r="1.25" fill="#2b4b84" stroke="#163066" stroke-width="0.5"/>
<circle cx="205.5" cy="323.1" r="1.25" fill="#2b4b84" stroke="#163066" stroke-width="0.5"/>
<circle cx="206.5" cy="328.9" r="1.25" fill="#2b4b84" stroke="#163066" stroke-width="0.5"/>
<circle cx="201.3" cy="333.1" r="1.25" fill="#2b4b84" stroke="#163066" stroke-width="0.5"/>
<circle cx="183.4" cy="326" r="1.25" fill="#2b4b84" stroke="#163066" stroke-width="0.5"/>
<circle cx="178.5" cy="331.8" r="1.25" fill="#2b4b84" stroke="#163066" stroke-width="0.5"/>
<circle cx="170.8" cy="331.8" r="1.25" fill="#2b4b84" stroke="#163066" stroke-width="0.5"/>
<circle cx="165" cy="332.8" r="1.25" fill="#2b4b84" stroke="#163066" stroke-width="0.5"/>
<circle cx="163.1" cy="333.7" r="1.25" fill="#2b4b84" stroke="#163066" stroke-width="0.5"/>
<circle cx="167" cy="335.6" r="1.25" fill="#2b4b84" stroke="#163066" stroke-width="0.5"/>
<circle cx="172.8" cy="336.6" r="1.25" fill="#2b4b84" stroke="#163066" stroke-width="0.5"/>
<circle cx="160.2" cy="338.5" r="1.25" fill="#2b4b84" stroke="#163066" stroke-width="0.5"/>
<circle cx="168.9" cy="343.9" r="1.25" fill="#2b4b84" stroke="#163066" stroke-width="0.5"/>
<circle cx="203.6" cy="351.1" r="1.25" fill="#2b4b84" stroke="#163066" stroke-width="0.5"/>
<circle cx="168.9" cy="357.4" r="1.25" fill="#2b4b84" stroke="#163066" stroke-width="0.5"/>
<circle cx="194.5" cy="360.1" r="1.25" fill="#2b4b84" stroke="#163066" stroke-width="0.5"/>
<circle cx="170.3" cy="252.5" r="1.25" fill="#2b4b84" stroke="#163066" stroke-width="0.5"/>
<circle cx="179" cy="290.3" r="1.25" fill="#2b4b84" stroke="#163066" stroke-width="0.5"/>
<circle cx="188.2" cy="289.4" r="1.25" fill="#2b4b84" stroke="#163066" stroke-width="0.5"/>
<circle cx="163.4" cy="295.5" r="1.25" fill="#2b4b84" stroke="#163066" stroke-width="0.5"/>
<circle cx="178.1" cy="296.3" r="1.25" fill="#2b4b84" stroke="#163066" stroke-width="0.5"/>
<circle cx="164.3" cy="299.8" r="1.25" fill="#2b4b84" stroke="#163066" stroke-width="0.5"/>
<circle cx="177.3" cy="298" r="1.25" fill="#2b4b84" stroke="#163066" stroke-width="0.5"/>
<circle cx="162.5" cy="301.5" r="1.25" fill="#2b4b84" stroke="#163066" stroke-width="0.5"/>
<circle cx="196.3" cy="298" r="1.25" fill="#2b4b84" stroke="#163066" stroke-width="0.5"/>
<circle cx="185.9" cy="302" r="1.25" fill="#2b4b84" stroke="#163066" stroke-width="0.5"/>
<circle cx="154.7" cy="306.7" r="1.25" fill="#2b4b84" stroke="#163066" stroke-width="0.5"/>
<circle cx="172.9" cy="306.7" r="1.25" fill="#2b4b84" stroke="#163066" stroke-width="0.5"/>
<circle cx="179.9" cy="305.5" r="1.25" fill="#2b4b84" stroke="#163066" stroke-width="0.5"/>
<circle cx="166" cy="306.7" r="1.25" fill="#2b4b84" stroke="#163066" stroke-width="0.5"/>
<circle cx="174" cy="309.5" r="1.25" fill="#2b4b84" stroke="#163066" stroke-width="0.5"/>
<circle cx="177" cy="311.5" r="1.25" fill="#2b4b84" stroke="#163066" stroke-width="0.5"/>
<circle cx="169" cy="311" r="1.25" fill="#2b4b84" stroke="#163066" stroke-width="0.5"/>
<circle cx="165.5" cy="312.5" r="1.25" fill="#2b4b84" stroke="#163066" stroke-width="0.5"/>
<circle cx="158" cy="305.5" r="1.25" fill="#2b4b84" stroke="#163066" stroke-width="0.5"/>
<line x1="107.9" y1="295.6" x2="117.3" y2="294.8" stroke="#333" stroke-width="0.7"/>
<line x1="147.2" y1="277.5" x2="152.2" y2="300.3" stroke="#333" stroke-width="0.7"/>
<line x1="157.0" y1="286.8" x2="161.6" y2="307.2" stroke="#333" stroke-width="0.7"/>
<line x1="166.6" y1="264.5" x2="167.8" y2="295.4" stroke="#333" stroke-width="0.7"/>
<line x1="177.2" y1="270.5" x2="172.6" y2="289.6" stroke="#333" stroke-width="0.7"/>
<line x1="180.0" y1="283.6" x2="171.8" y2="301.6" stroke="#333" stroke-width="0.7"/>
<line x1="209.0" y1="280.8" x2="172.4" y2="302.8" stroke="#333" stroke-width="0.7"/>
<line x1="197.0" y1="292.2" x2="190.0" y2="297.6" stroke="#333" stroke-width="0.7"/>
<line x1="203.0" y1="302.2" x2="193.6" y2="305.8" stroke="#333" stroke-width="0.7"/>
<line x1="208.2" y1="332.4" x2="186.5" y2="322.6" stroke="#333" stroke-width="0.7"/>
<line x1="184.9" y1="323.6" x2="186.2" y2="335.6" stroke="#333" stroke-width="0.7"/>
<circle cx="119.5" cy="294.7" r="1.9" fill="#c90a30" stroke="#3a0006" stroke-width="0.9"/>
<circle cx="152.7" cy="302.5" r="1.9" fill="#c90a30" stroke="#3a0006" stroke-width="0.9"/>
<circle cx="167.9" cy="297.7" r="1.9" fill="#c90a30" stroke="#3a0006" stroke-width="0.9"/>
<circle cx="172.3" cy="291.7" r="1.9" fill="#c90a30" stroke="#3a0006" stroke-width="0.9"/>
<circle cx="162.1" cy="309.4" r="1.9" fill="#c90a30" stroke="#3a0006" stroke-width="0.9"/>
<circle cx="169.8" cy="304.8" r="1.9" fill="#c90a30" stroke="#3a0006" stroke-width="0.9"/>
<circle cx="171.4" cy="303.6" r="1.9" fill="#c90a30" stroke="#3a0006" stroke-width="0.9"/>
<circle cx="188.2" cy="298.5" r="1.9" fill="#c90a30" stroke="#3a0006" stroke-width="0.9"/>
<circle cx="191.6" cy="306.4" r="1.9" fill="#c90a30" stroke="#3a0006" stroke-width="0.9"/>
<circle cx="179.6" cy="317.1" r="1.9" fill="#c90a30" stroke="#3a0006" stroke-width="0.9"/>
<circle cx="186.3" cy="317.8" r="1.9" fill="#c90a30" stroke="#3a0006" stroke-width="0.9"/>
<circle cx="184.6" cy="321.8" r="1.9" fill="#c90a30" stroke="#3a0006" stroke-width="0.9"/>
<circle cx="176.6" cy="342" r="1.9" fill="#c90a30" stroke="#3a0006" stroke-width="0.9"/>
<circle cx="211.7" cy="339.5" r="1.9" fill="#c90a30" stroke="#3a0006" stroke-width="0.9"/>
<line x1="95" y1="311.3" x2="211.5" y2="308.2" stroke="#222" stroke-width="1.1" stroke-dasharray="3.2 2.2"/>
<text x="74.7" y="302.7" font-size="8.6" stroke="#222" stroke-width="0.12" textLength="22.8" lengthAdjust="spacingAndGlyphs">hspa9</text>
<text x="146.7" y="263.1" font-size="8.6" stroke="#222" stroke-width="0.12" textLength="23.2" lengthAdjust="spacingAndGlyphs">cd74b</text>
<text x="175.3" y="268.9" font-size="8.6" stroke="#222" stroke-width="0.12" textLength="23.5" lengthAdjust="spacingAndGlyphs">cdc20</text>
<text x="143.9" y="276.6" font-size="8.6" stroke="#222" stroke-width="0.12" textLength="15.9" lengthAdjust="spacingAndGlyphs">b2m</text>
<text x="177.0" y="282.8" font-size="8.6" stroke="#222" stroke-width="0.12" textLength="17.9" lengthAdjust="spacingAndGlyphs">b2ml</text>
<text x="209.7" y="281.0" font-size="8.6" stroke="#222" stroke-width="0.12" textLength="19.5" lengthAdjust="spacingAndGlyphs">jak2a</text>
<text x="148.7" y="285.7" font-size="8.6" stroke="#222" stroke-width="0.12" textLength="18.3" lengthAdjust="spacingAndGlyphs">mta3</text>
<text x="197.2" y="293.4" font-size="8.6" stroke="#222" stroke-width="0.12" textLength="15.1" lengthAdjust="spacingAndGlyphs">dtx4</text>
<text x="203.6" y="303.6" font-size="8.6" stroke="#222" stroke-width="0.12" textLength="25.4" lengthAdjust="spacingAndGlyphs">cdc42l</text>
<text x="192.4" y="319.9" font-size="8.6" stroke="#222" stroke-width="0.12" textLength="10.6" lengthAdjust="spacingAndGlyphs">rel</text>
<text x="208.4" y="336.6" font-size="8.6" stroke="#222" stroke-width="0.12" textLength="21.8" lengthAdjust="spacingAndGlyphs">jam2a</text>
<text x="180.5" y="344.3" font-size="8.6" stroke="#222" stroke-width="0.12" textLength="15.4" lengthAdjust="spacingAndGlyphs">ikzf1</text>
<text x="205.0" y="350.1" font-size="8.6" stroke="#222" stroke-width="0.12" textLength="29.0" lengthAdjust="spacingAndGlyphs">tspan2a</text>
<text x="159.3" y="354.3" font-size="8.6" stroke="#222" stroke-width="0.12" textLength="16.3" lengthAdjust="spacingAndGlyphs">rag2</text>
<text x="45.5" y="264.1" font-size="8.6" stroke="#222" stroke-width="0.12" textLength="41.5" lengthAdjust="spacingAndGlyphs">slope: 0.05</text>
<text x="45.5" y="276.7" font-size="8.6" stroke="#222" stroke-width="0.12" textLength="32.0" lengthAdjust="spacingAndGlyphs"><tspan font-style="italic">p</tspan> = 0.48</text>
<text transform="translate(25.4,347.6) rotate(-90)" x="0" y="0" font-size="10.4" font-weight="bold" textLength="50.2" lengthAdjust="spacingAndGlyphs">Log<tspan font-size="7" dy="2.9">2</tspan><tspan dy="-2.9">FoldChange</tspan></text>
<text transform="translate(25.4,295.5) rotate(-90)" x="0" y="0" font-size="10.4" font-weight="bold" textLength="23.0" lengthAdjust="spacingAndGlyphs">scATAC</text>
<text transform="translate(36.3,343.6) rotate(-90)" x="0" y="0" font-size="10.4" font-weight="bold" textLength="66.9" lengthAdjust="spacingAndGlyphs">genescores(KOvsWT)</text>
<text x="89.6" y="390.2" font-size="10.8" font-weight="bold" textLength="50.6" lengthAdjust="spacingAndGlyphs">Log<tspan font-size="7" dy="2.9">2</tspan><tspan dy="-2.9">FoldChange</tspan></text>
<text x="141.7" y="390.2" font-size="10.8" font-weight="bold" textLength="21.0" lengthAdjust="spacingAndGlyphs">scRNA</text>
<text x="164.9" y="390.2" font-size="10.8" font-weight="bold" textLength="31.9" lengthAdjust="spacingAndGlyphs">(KOvsWT)</text>
<text x="262.2" y="211.2" font-size="12.6" fill="#000" stroke="#000" stroke-width="0.45" font-weight="bold">D</text>
<text x="291.7" y="210.9" font-size="9" stroke="#222" stroke-width="0.12" textLength="45.3" lengthAdjust="spacingAndGlyphs">CD34<tspan font-size="6" dy="-3.3">+</tspan><tspan dy="3.3"> cells</tspan></text>
<line x1="314.3" y1="215.5" x2="314.3" y2="222.5" stroke="#111" stroke-width="1.0"/>
<path d="M311.6,221 L317,221 L314.3,226 Z" fill="#111"/>
<text x="314.2" y="237.5" font-size="9" text-anchor="middle" stroke="#222" stroke-width="0.12" textLength="25.8" lengthAdjust="spacingAndGlyphs">GATA2</text>
<text x="314.7" y="246.2" font-size="9" text-anchor="middle" stroke="#222" stroke-width="0.12" textLength="34.5" lengthAdjust="spacingAndGlyphs">ChIP-seq</text>
<ellipse cx="378.5" cy="228.3" rx="38.9" ry="18.7" fill="none" stroke="#111" stroke-width="1.3"/>
<ellipse cx="415.4" cy="228.7" rx="25.8" ry="17.4" fill="none" stroke="#3b5b98" stroke-width="1.3"/>
<text x="352.0" y="230.4" font-size="9" stroke="#222" stroke-width="0.12" textLength="25.0" lengthAdjust="spacingAndGlyphs">11,151</text>
<text x="396.3" y="230.4" font-size="9" stroke="#222" stroke-width="0.12" textLength="15.0" lengthAdjust="spacingAndGlyphs">148</text>
<text x="422.0" y="230.4" font-size="9" stroke="#222" stroke-width="0.12" textLength="14.3" lengthAdjust="spacingAndGlyphs">109</text>
<line x1="401.3" y1="237.5" x2="401.3" y2="247.5" stroke="#111" stroke-width="1.0"/>
<path d="M398.7,246.5 L403.9,246.5 L401.3,251.8 Z" fill="#111"/>
<text x="482.2" y="211.3" font-size="9" text-anchor="middle" stroke="#222" stroke-width="0.12" textLength="46.3" lengthAdjust="spacingAndGlyphs">Zebrafish LP</text>
<text x="462" y="221.3" font-size="9" stroke="#222" stroke-width="0.12" textLength="39.8" lengthAdjust="spacingAndGlyphs">lnFC &gt; 0.1,</text>
<text x="467.7" y="231.9" font-size="9" stroke="#222" stroke-width="0.12" textLength="28.3" lengthAdjust="spacingAndGlyphs"><tspan font-style="italic">p</tspan> &lt;0.05</text>
<rect x="274" y="257.00" width="96.2" height="5.1" fill="#a5641a"/>
<rect x="274" y="263.78" width="82.1" height="5.1" fill="#dc8714"/>
<rect x="274" y="270.56" width="69.9" height="5.1" fill="#dc8714"/>
<rect x="274" y="277.34" width="69.5" height="5.1" fill="#dc8714"/>
<rect x="274" y="284.12" width="67.2" height="5.1" fill="#dc8714"/>
<rect x="274" y="290.90" width="63.7" height="5.1" fill="#e6b91e"/>
<rect x="274" y="297.68" width="63.0" height="5.1" fill="#e6b91e"/>
<rect x="274" y="304.46" width="60.9" height="5.1" fill="#e6b91e"/>
<rect x="274" y="311.24" width="59.8" height="5.1" fill="#e6b91e"/>
<rect x="274" y="318.02" width="56.8" height="5.1" fill="#e6b91e"/>
<rect x="274" y="324.80" width="56.1" height="5.1" fill="#e6b91e"/>
<rect x="274" y="331.58" width="52.8" height="5.1" fill="#e2b11c"/>
<rect x="274" y="338.36" width="44.8" height="5.1" fill="#f5d796"/>
<rect x="274" y="345.14" width="41.8" height="5.1" fill="#f5d796"/>
<rect x="274" y="351.92" width="36.0" height="5.1" fill="#f5d796"/>
<rect x="274" y="358.70" width="34.4" height="5.1" fill="#f5d796"/>
<rect x="274" y="365.48" width="33.9" height="5.1" fill="#f5d796"/>
<rect x="360.2" y="255.9" width="2.6" height="7.6" rx="1" fill="#6f7884" stroke="#222" stroke-width="0.6"/>
<line x1="273.5" y1="252.6" x2="273.5" y2="377.6" stroke="#111" stroke-width="1.25"/>
<line x1="273.2" y1="374.6" x2="366.7" y2="374.6" stroke="#111" stroke-width="1.25"/>
<line x1="306.1" y1="374.5" x2="306.1" y2="377.3" stroke="#111" stroke-width="1.0"/>
<line x1="338.8" y1="374.5" x2="338.8" y2="377.3" stroke="#111" stroke-width="1.0"/>
<line x1="364.0" y1="374.5" x2="364.0" y2="377.3" stroke="#111" stroke-width="1.0"/>
<rect x="359.4" y="373.2" width="3.2" height="2.6" fill="#fff"/>
<ellipse cx="360.9" cy="374.4" rx="1.2" ry="1.0" fill="none" stroke="#111" stroke-width="0.8"/>
<text x="273.8" y="389.0" font-size="8.2" text-anchor="middle" stroke="#222" stroke-width="0.05">0</text>
<text x="306.1" y="389.0" font-size="8.2" text-anchor="middle" stroke="#222" stroke-width="0.05">2</text>
<text x="338.8" y="389.0" font-size="8.2" text-anchor="middle" stroke="#222" stroke-width="0.05">4</text>
<text x="364.3" y="389.0" font-size="8.2" text-anchor="middle" stroke="#222" stroke-width="0.05">10</text>
<text x="306.9" y="402.7" font-size="10.0" stroke="#222" stroke-width="0.35" textLength="2.0" lengthAdjust="spacingAndGlyphs">-</text>
<text x="309.0" y="402.7" font-size="10.0" stroke="#222" stroke-width="0.35" textLength="10.2" lengthAdjust="spacingAndGlyphs">log</text>
<text x="319.3" y="404.6" font-size="8.4" stroke="#222" stroke-width="0.3" textLength="5.2" lengthAdjust="spacingAndGlyphs">10</text>
<text x="324.6" y="402.7" font-size="10.0" stroke="#222" stroke-width="0.35" textLength="8.6" lengthAdjust="spacingAndGlyphs">(p)</text>
<text x="374.2" y="262.10" font-size="6.9" fill="#111" stroke="#111" stroke-width="0.12" textLength="70.8" lengthAdjust="spacingAndGlyphs">dre03010:Ribosome</text>
<text x="374.2" y="268.87" font-size="6.9" fill="#111" stroke="#111" stroke-width="0.12" textLength="63.2" lengthAdjust="spacingAndGlyphs">dre00190:OxPhos</text>
<text x="374.2" y="275.65" font-size="6.9" fill="#c0284a" stroke="#c0284a" stroke-width="0.12" textLength="93.9" lengthAdjust="spacingAndGlyphs">GO:0030097:Hemopoiesis</text>
<text x="374.2" y="282.42" font-size="6.9" fill="#111" stroke="#111" stroke-width="0.12" textLength="81.7" lengthAdjust="spacingAndGlyphs">R-DRE-69242: S phase</text>
<text x="374.2" y="289.20" font-size="6.9" fill="#111" stroke="#111" stroke-width="0.12" textLength="116.0" lengthAdjust="spacingAndGlyphs">GO:0006367: Transcrip inititation</text>
<text x="374.2" y="295.97" font-size="6.9" fill="#111" stroke="#111" stroke-width="0.12" textLength="126.9" lengthAdjust="spacingAndGlyphs">GO:0022613: Ribonuc comp biogen</text>
<text x="374.2" y="302.75" font-size="6.9" fill="#111" stroke="#111" stroke-width="0.12" textLength="135.8" lengthAdjust="spacingAndGlyphs">GO:0002181: Cytoplasmic transplation</text>
<text x="374.2" y="309.52" font-size="6.9" fill="#111" stroke="#111" stroke-width="0.12" textLength="82.8" lengthAdjust="spacingAndGlyphs">dre0313: RNA transport</text>
<text x="374.2" y="316.30" font-size="6.9" fill="#111" stroke="#111" stroke-width="0.12" textLength="136.5" lengthAdjust="spacingAndGlyphs">GO:0043254: Reg of prot comp assem</text>
<text x="374.2" y="323.07" font-size="6.9" fill="#111" stroke="#111" stroke-width="0.12" textLength="124.5" lengthAdjust="spacingAndGlyphs">GO:0051276: Chromosome organiz</text>
<text x="374.2" y="329.85" font-size="6.9" fill="#111" stroke="#111" stroke-width="0.12" textLength="138.2" lengthAdjust="spacingAndGlyphs">GO:0051254: Pos reg of RNA met proc</text>
<text x="374.2" y="336.62" font-size="6.9" fill="#111" stroke="#111" stroke-width="0.12" textLength="67.1" lengthAdjust="spacingAndGlyphs">dre:04110: Cell cycle</text>
<text x="374.2" y="343.40" font-size="6.9" fill="#111" stroke="#111" stroke-width="0.12" textLength="91.9" lengthAdjust="spacingAndGlyphs">GO:0048589: Dev growth</text>
<text x="374.2" y="350.17" font-size="6.9" fill="#111" stroke="#111" stroke-width="0.12" textLength="116.5" lengthAdjust="spacingAndGlyphs">dre:03008: Rib biog in eukaryotes</text>
<text x="374.2" y="356.95" font-size="6.9" fill="#111" stroke="#111" stroke-width="0.12" textLength="79.4" lengthAdjust="spacingAndGlyphs">dre04145: Phagosome</text>
<text x="374.2" y="363.72" font-size="6.9" fill="#111" stroke="#111" stroke-width="0.12" textLength="104.0" lengthAdjust="spacingAndGlyphs">GO:0001570: Vasculogenesis</text>
<text x="374.2" y="370.50" font-size="6.9" fill="#111" stroke="#111" stroke-width="0.12" textLength="131.7" lengthAdjust="spacingAndGlyphs">GO:0045088: Reg of innate imm resp</text>
<path d="M469.2,270.1 L483.6,246.0 L483.6,282.2 M469.2,275.5 L483.6,279.6" fill="none" stroke="#b5173f" stroke-width="1.1"/>
<text x="485.1" y="255.0" font-size="8.6" fill="#b5173f" stroke="#b5173f" stroke-width="0.12" textLength="16.3" lengthAdjust="spacingAndGlyphs" font-style="italic">ikzf1</text>
<text x="485.1" y="264.7" font-size="8.6" fill="#b5173f" stroke="#b5173f" stroke-width="0.12" textLength="19.3" lengthAdjust="spacingAndGlyphs" font-style="italic">jak2a</text>
<text x="485.1" y="273.1" font-size="8.6" fill="#b5173f" stroke="#b5173f" stroke-width="0.12" textLength="18.1" lengthAdjust="spacingAndGlyphs" font-style="italic">mta3</text>
<text x="485.1" y="282.2" font-size="8.6" fill="#b5173f" stroke="#b5173f" stroke-width="0.12" textLength="19.9" lengthAdjust="spacingAndGlyphs" font-style="italic">hspa9</text>
<rect x="0" y="0" width="520" height="1.0" fill="#000"/>
<rect x="0" y="0" width="1.0" height="415" fill="#000"/>
<rect x="518.6" y="0" width="1.4" height="415" fill="#000"/>
<rect x="0" y="413.5" width="520" height="1.5" fill="#000"/>
</g>
</svg>
</body></html>
